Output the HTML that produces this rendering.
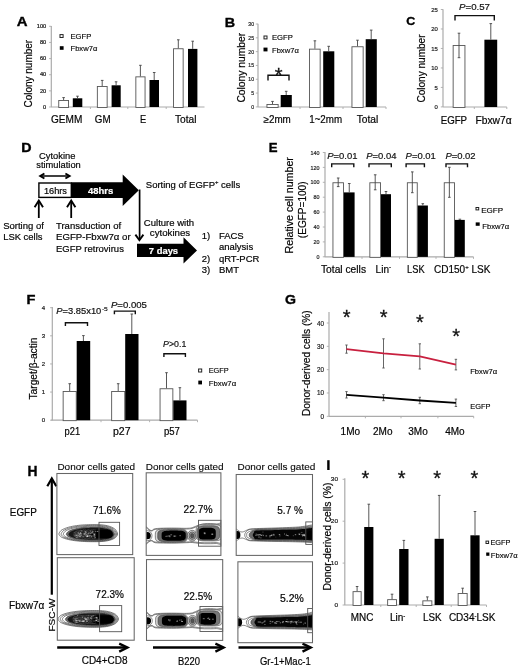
<!DOCTYPE html>
<html><head><meta charset="utf-8"><style>
html,body{margin:0;padding:0;background:#fff;}
svg{display:block;will-change:transform;}
text{font-family:"Liberation Sans", sans-serif;}
</style></head><body>
<svg width="520" height="667" viewBox="0 0 520 667">
<rect width="520" height="667" fill="#fff"/>
<text x="16.7" y="26.2" font-size="13.27" stroke="#000" stroke-width="0.35" font-weight="bold" fill="#000" textLength="10.8" lengthAdjust="spacingAndGlyphs">A</text>
<line x1="51.3" y1="26" x2="51.3" y2="107" stroke="#ababab" stroke-width="1.2"/>
<line x1="49.099999999999994" y1="26.3" x2="51.3" y2="26.3" stroke="#ababab" stroke-width="0.9"/>
<text x="46.2" y="27.9826" font-size="4.7" stroke="#222" stroke-width="0.2" text-anchor="end" fill="#222" textLength="9.45" lengthAdjust="spacingAndGlyphs">100</text>
<line x1="49.099999999999994" y1="42.44" x2="51.3" y2="42.44" stroke="#ababab" stroke-width="0.9"/>
<text x="46.2" y="44.1226" font-size="4.7" stroke="#222" stroke-width="0.2" text-anchor="end" fill="#222" textLength="6.3" lengthAdjust="spacingAndGlyphs">80</text>
<line x1="49.099999999999994" y1="58.58" x2="51.3" y2="58.58" stroke="#ababab" stroke-width="0.9"/>
<text x="46.2" y="60.2626" font-size="4.7" stroke="#222" stroke-width="0.2" text-anchor="end" fill="#222" textLength="6.3" lengthAdjust="spacingAndGlyphs">60</text>
<line x1="49.099999999999994" y1="74.72" x2="51.3" y2="74.72" stroke="#ababab" stroke-width="0.9"/>
<text x="46.2" y="76.40259999999999" font-size="4.7" stroke="#222" stroke-width="0.2" text-anchor="end" fill="#222" textLength="6.3" lengthAdjust="spacingAndGlyphs">40</text>
<line x1="49.099999999999994" y1="90.86" x2="51.3" y2="90.86" stroke="#ababab" stroke-width="0.9"/>
<text x="46.2" y="92.5426" font-size="4.7" stroke="#222" stroke-width="0.2" text-anchor="end" fill="#222" textLength="6.3" lengthAdjust="spacingAndGlyphs">20</text>
<line x1="49.099999999999994" y1="107.0" x2="51.3" y2="107.0" stroke="#ababab" stroke-width="0.9"/>
<text x="46.2" y="108.6826" font-size="4.7" stroke="#222" stroke-width="0.2" text-anchor="end" fill="#222" textLength="3.15" lengthAdjust="spacingAndGlyphs">0</text>
<line x1="51" y1="107" x2="204.5" y2="107" stroke="#ababab" stroke-width="1.2"/>
<line x1="90.4" y1="107" x2="90.4" y2="109" stroke="#ababab" stroke-width="0.9"/>
<line x1="127.8" y1="107" x2="127.8" y2="109" stroke="#ababab" stroke-width="0.9"/>
<line x1="166.2" y1="107" x2="166.2" y2="109" stroke="#ababab" stroke-width="0.9"/>
<rect x="58.75" y="100.45" width="9.800000000000002" height="7" fill="#fff" stroke="#555" stroke-width="0.9"/>
<line x1="63.6" y1="97.6" x2="63.6" y2="100" stroke="#444" stroke-width="0.9"/>
<line x1="62.300000000000004" y1="97.6" x2="64.9" y2="97.6" stroke="#444" stroke-width="0.9"/>
<rect x="72.8" y="98.3" width="9.5" height="8.700000000000003" fill="#000"/>
<line x1="77.5" y1="96.2" x2="77.5" y2="98.3" stroke="#444" stroke-width="0.9"/>
<line x1="76.2" y1="96.2" x2="78.8" y2="96.2" stroke="#444" stroke-width="0.9"/>
<rect x="97.35000000000001" y="86.45" width="9.799999999999988" height="21" fill="#fff" stroke="#555" stroke-width="0.9"/>
<line x1="102.2" y1="80.4" x2="102.2" y2="86" stroke="#444" stroke-width="0.9"/>
<line x1="100.9" y1="80.4" x2="103.5" y2="80.4" stroke="#444" stroke-width="0.9"/>
<rect x="111.6" y="85.3" width="9.100000000000009" height="21.700000000000003" fill="#000"/>
<line x1="116.1" y1="81.8" x2="116.1" y2="85.3" stroke="#444" stroke-width="0.9"/>
<line x1="114.8" y1="81.8" x2="117.39999999999999" y2="81.8" stroke="#444" stroke-width="0.9"/>
<rect x="135.85" y="76.85000000000001" width="9.199999999999994" height="30.599999999999994" fill="#fff" stroke="#555" stroke-width="0.9"/>
<line x1="140.4" y1="65.3" x2="140.4" y2="76.4" stroke="#444" stroke-width="0.9"/>
<line x1="139.1" y1="65.3" x2="141.70000000000002" y2="65.3" stroke="#444" stroke-width="0.9"/>
<rect x="149.5" y="80" width="9.5" height="27" fill="#000"/>
<line x1="154.2" y1="72.5" x2="154.2" y2="80" stroke="#444" stroke-width="0.9"/>
<line x1="152.89999999999998" y1="72.5" x2="155.5" y2="72.5" stroke="#444" stroke-width="0.9"/>
<rect x="173.54999999999998" y="48.75" width="9.6" height="58.7" fill="#fff" stroke="#555" stroke-width="0.9"/>
<line x1="178.3" y1="39.8" x2="178.3" y2="48.3" stroke="#444" stroke-width="0.9"/>
<line x1="177.0" y1="39.8" x2="179.60000000000002" y2="39.8" stroke="#444" stroke-width="0.9"/>
<rect x="188" y="48.9" width="9.400000000000006" height="58.1" fill="#000"/>
<line x1="192.7" y1="41.2" x2="192.7" y2="48.9" stroke="#444" stroke-width="0.9"/>
<line x1="191.39999999999998" y1="41.2" x2="194.0" y2="41.2" stroke="#444" stroke-width="0.9"/>
<text x="51" y="122.6" font-size="10" stroke="#111" stroke-width="0.2" textLength="31.3" lengthAdjust="spacingAndGlyphs">GEMM</text>
<text x="94.8" y="122.6" font-size="10" stroke="#111" stroke-width="0.2" textLength="15.8" lengthAdjust="spacingAndGlyphs">GM</text>
<text x="140" y="122.6" font-size="10" stroke="#111" stroke-width="0.2" textLength="6.2" lengthAdjust="spacingAndGlyphs">E</text>
<text x="174.9" y="122.5" font-size="10" stroke="#111" stroke-width="0.2" textLength="21.5" lengthAdjust="spacingAndGlyphs">Total</text>
<rect x="60.0" y="34.6" width="3.1000000000000014" height="2.8999999999999986" fill="#fff" stroke="#222" stroke-width="1"/>
<rect x="59.8" y="46.2" width="3.8000000000000043" height="3.5999999999999943" fill="#000"/>
<text x="70.5" y="38.6" font-size="7.5" stroke="#111" stroke-width="0.14" textLength="20.8" lengthAdjust="spacingAndGlyphs">EGFP</text>
<text x="70.5" y="51.2" font-size="7.5" stroke="#111" stroke-width="0.14" textLength="26.8" lengthAdjust="spacingAndGlyphs">Fbxw7α</text>
<text x="32.2" y="73.7" font-size="10" stroke="#111" stroke-width="0.2" text-anchor="middle" textLength="67.6" lengthAdjust="spacingAndGlyphs" transform="rotate(-90 32.2 73.7)">Colony number</text>
<text x="224.7" y="26.5" font-size="13.41" stroke="#000" stroke-width="0.35" font-weight="bold" fill="#000" textLength="10.4" lengthAdjust="spacingAndGlyphs">B</text>
<line x1="258" y1="23.8" x2="258" y2="107" stroke="#ababab" stroke-width="1.2"/>
<line x1="255.8" y1="24.0" x2="258" y2="24.0" stroke="#ababab" stroke-width="0.9"/>
<text x="254" y="26.0048" font-size="5.6" stroke="#222" stroke-width="0.2" text-anchor="end" fill="#222" textLength="5.7" lengthAdjust="spacingAndGlyphs">30</text>
<line x1="255.8" y1="37.82" x2="258" y2="37.82" stroke="#ababab" stroke-width="0.9"/>
<text x="254" y="39.8248" font-size="5.6" stroke="#222" stroke-width="0.2" text-anchor="end" fill="#222" textLength="5.7" lengthAdjust="spacingAndGlyphs">25</text>
<line x1="255.8" y1="51.64" x2="258" y2="51.64" stroke="#ababab" stroke-width="0.9"/>
<text x="254" y="53.644800000000004" font-size="5.6" stroke="#222" stroke-width="0.2" text-anchor="end" fill="#222" textLength="5.7" lengthAdjust="spacingAndGlyphs">20</text>
<line x1="255.8" y1="65.46000000000001" x2="258" y2="65.46000000000001" stroke="#ababab" stroke-width="0.9"/>
<text x="254" y="67.46480000000001" font-size="5.6" stroke="#222" stroke-width="0.2" text-anchor="end" fill="#222" textLength="5.7" lengthAdjust="spacingAndGlyphs">15</text>
<line x1="255.8" y1="79.28" x2="258" y2="79.28" stroke="#ababab" stroke-width="0.9"/>
<text x="254" y="81.2848" font-size="5.6" stroke="#222" stroke-width="0.2" text-anchor="end" fill="#222" textLength="5.7" lengthAdjust="spacingAndGlyphs">10</text>
<line x1="255.8" y1="93.1" x2="258" y2="93.1" stroke="#ababab" stroke-width="0.9"/>
<text x="254" y="95.1048" font-size="5.6" stroke="#222" stroke-width="0.2" text-anchor="end" fill="#222" textLength="2.85" lengthAdjust="spacingAndGlyphs">5</text>
<line x1="255.8" y1="106.92" x2="258" y2="106.92" stroke="#ababab" stroke-width="0.9"/>
<text x="254" y="108.9248" font-size="5.6" stroke="#222" stroke-width="0.2" text-anchor="end" fill="#222" textLength="2.85" lengthAdjust="spacingAndGlyphs">0</text>
<line x1="257.8" y1="107" x2="386" y2="107" stroke="#ababab" stroke-width="1.2"/>
<line x1="300" y1="107" x2="300" y2="109" stroke="#ababab" stroke-width="0.9"/>
<line x1="343" y1="107" x2="343" y2="109" stroke="#ababab" stroke-width="0.9"/>
<line x1="386" y1="107" x2="386" y2="109" stroke="#ababab" stroke-width="0.9"/>
<rect x="266.95" y="104.45" width="11.200000000000022" height="3" fill="#fff" stroke="#555" stroke-width="0.9"/>
<line x1="272.5" y1="101.4" x2="272.5" y2="104" stroke="#444" stroke-width="0.9"/>
<line x1="271.2" y1="101.4" x2="273.8" y2="101.4" stroke="#444" stroke-width="0.9"/>
<rect x="280.7" y="95" width="11.100000000000023" height="12" fill="#000"/>
<line x1="286.2" y1="91.3" x2="286.2" y2="95" stroke="#444" stroke-width="0.9"/>
<line x1="284.9" y1="91.3" x2="287.5" y2="91.3" stroke="#444" stroke-width="0.9"/>
<rect x="309.55" y="49.150000000000006" width="10.6" height="58.3" fill="#fff" stroke="#555" stroke-width="0.9"/>
<line x1="314.9" y1="40.8" x2="314.9" y2="48.7" stroke="#444" stroke-width="0.9"/>
<line x1="313.59999999999997" y1="40.8" x2="316.2" y2="40.8" stroke="#444" stroke-width="0.9"/>
<rect x="323.2" y="51.3" width="11.100000000000023" height="55.7" fill="#000"/>
<line x1="328.7" y1="46.3" x2="328.7" y2="51.3" stroke="#444" stroke-width="0.9"/>
<line x1="327.4" y1="46.3" x2="330.0" y2="46.3" stroke="#444" stroke-width="0.9"/>
<rect x="351.95" y="46.75" width="11.200000000000022" height="60.7" fill="#fff" stroke="#555" stroke-width="0.9"/>
<line x1="357.5" y1="40.2" x2="357.5" y2="46.3" stroke="#444" stroke-width="0.9"/>
<line x1="356.2" y1="40.2" x2="358.8" y2="40.2" stroke="#444" stroke-width="0.9"/>
<rect x="365.7" y="39.2" width="11.100000000000023" height="67.8" fill="#000"/>
<line x1="371.2" y1="30.1" x2="371.2" y2="39.2" stroke="#444" stroke-width="0.9"/>
<line x1="369.9" y1="30.1" x2="372.5" y2="30.1" stroke="#444" stroke-width="0.9"/>
<path d="M268 80.6 V75.2 H289 V80.6" fill="none" stroke="#111" stroke-width="1.4"/>
<text x="274.85" y="81.95" font-size="20.00" fill="#111" stroke="#111" stroke-width="0.3">*</text>
<text x="263.5" y="122.7" font-size="10" stroke="#111" stroke-width="0.2" textLength="27.3" lengthAdjust="spacingAndGlyphs">≥2mm</text>
<text x="309.2" y="122.7" font-size="10" stroke="#111" stroke-width="0.2" textLength="32.9" lengthAdjust="spacingAndGlyphs">1~2mm</text>
<text x="356.7" y="122.7" font-size="10" stroke="#111" stroke-width="0.2" textLength="21.6" lengthAdjust="spacingAndGlyphs">Total</text>
<rect x="264.0" y="36.0" width="3.0" height="2.8999999999999986" fill="#fff" stroke="#222" stroke-width="1"/>
<rect x="263.5" y="47.6" width="4.0" height="3.799999999999997" fill="#000"/>
<text x="272" y="40.3" font-size="7.5" stroke="#111" stroke-width="0.14" textLength="20.8" lengthAdjust="spacingAndGlyphs">EGFP</text>
<text x="272" y="52.5" font-size="7.5" stroke="#111" stroke-width="0.14" textLength="26.8" lengthAdjust="spacingAndGlyphs">Fbxw7α</text>
<text x="245.3" y="67.7" font-size="10" stroke="#111" stroke-width="0.2" text-anchor="middle" textLength="69.8" lengthAdjust="spacingAndGlyphs" transform="rotate(-90 245.3 67.7)">Colony number</text>
<text x="406.2" y="25.4" font-size="11.73" stroke="#000" stroke-width="0.35" font-weight="bold" fill="#000" textLength="9.0" lengthAdjust="spacingAndGlyphs">C</text>
<line x1="443" y1="9.3" x2="443" y2="107" stroke="#ababab" stroke-width="1.2"/>
<line x1="440.8" y1="9.5" x2="443" y2="9.5" stroke="#ababab" stroke-width="0.9"/>
<text x="437.9" y="11.6122" font-size="5.9" stroke="#222" stroke-width="0.2" text-anchor="end" fill="#222" textLength="6.6" lengthAdjust="spacingAndGlyphs">25</text>
<line x1="440.8" y1="28.98" x2="443" y2="28.98" stroke="#ababab" stroke-width="0.9"/>
<text x="437.9" y="31.092200000000002" font-size="5.9" stroke="#222" stroke-width="0.2" text-anchor="end" fill="#222" textLength="6.6" lengthAdjust="spacingAndGlyphs">20</text>
<line x1="440.8" y1="48.46" x2="443" y2="48.46" stroke="#ababab" stroke-width="0.9"/>
<text x="437.9" y="50.5722" font-size="5.9" stroke="#222" stroke-width="0.2" text-anchor="end" fill="#222" textLength="6.6" lengthAdjust="spacingAndGlyphs">15</text>
<line x1="440.8" y1="67.94" x2="443" y2="67.94" stroke="#ababab" stroke-width="0.9"/>
<text x="437.9" y="70.0522" font-size="5.9" stroke="#222" stroke-width="0.2" text-anchor="end" fill="#222" textLength="6.6" lengthAdjust="spacingAndGlyphs">10</text>
<line x1="440.8" y1="87.42" x2="443" y2="87.42" stroke="#ababab" stroke-width="0.9"/>
<text x="437.9" y="89.5322" font-size="5.9" stroke="#222" stroke-width="0.2" text-anchor="end" fill="#222" textLength="3.3" lengthAdjust="spacingAndGlyphs">5</text>
<line x1="440.8" y1="106.9" x2="443" y2="106.9" stroke="#ababab" stroke-width="0.9"/>
<text x="437.9" y="109.0122" font-size="5.9" stroke="#222" stroke-width="0.2" text-anchor="end" fill="#222" textLength="3.3" lengthAdjust="spacingAndGlyphs">0</text>
<line x1="443" y1="107" x2="506.8" y2="107" stroke="#ababab" stroke-width="1.2"/>
<line x1="474.3" y1="107" x2="474.3" y2="109" stroke="#ababab" stroke-width="0.9"/>
<line x1="506.8" y1="107" x2="506.8" y2="109" stroke="#ababab" stroke-width="0.9"/>
<rect x="453.15" y="45.45" width="11.799999999999988" height="62" fill="#fff" stroke="#555" stroke-width="0.9"/>
<line x1="459" y1="33.2" x2="459" y2="57.7" stroke="#444" stroke-width="0.9"/>
<line x1="457.7" y1="33.2" x2="460.3" y2="33.2" stroke="#444" stroke-width="0.9"/>
<line x1="457.7" y1="57.7" x2="460.3" y2="57.7" stroke="#444" stroke-width="0.9"/>
<rect x="484.4" y="39.7" width="12.800000000000011" height="67.3" fill="#000"/>
<line x1="490.8" y1="23.6" x2="490.8" y2="39.7" stroke="#444" stroke-width="0.9"/>
<line x1="489.5" y1="23.6" x2="492.1" y2="23.6" stroke="#444" stroke-width="0.9"/>
<path d="M455 20.4 V15.6 H494.3 V20.4" fill="none" stroke="#111" stroke-width="1.4"/>
<text x="459" y="10.1" font-size="9.8" textLength="31" lengthAdjust="spacingAndGlyphs" fill="#111" stroke="#111" stroke-width="0.2"><tspan font-style="italic">P</tspan>=0.57</text>
<text x="440.7" y="123.7" font-size="10" stroke="#111" stroke-width="0.2" textLength="26.4" lengthAdjust="spacingAndGlyphs">EGFP</text>
<text x="475.5" y="123.7" font-size="10" stroke="#111" stroke-width="0.2" textLength="36.1" lengthAdjust="spacingAndGlyphs">Fbxw7α</text>
<text x="425.3" y="68.5" font-size="10" stroke="#111" stroke-width="0.2" text-anchor="middle" textLength="68" lengthAdjust="spacingAndGlyphs" transform="rotate(-90 425.3 68.5)">Colony number</text>
<text x="21.2" y="151.89999999999998" font-size="12.71" stroke="#000" stroke-width="0.35" font-weight="bold" fill="#000" textLength="10.3" lengthAdjust="spacingAndGlyphs">D</text>
<text x="57.2" y="158.6" font-size="9.5" stroke="#111" stroke-width="0.2" text-anchor="middle" textLength="36.4" lengthAdjust="spacingAndGlyphs">Cytokine</text>
<text x="58.5" y="168.4" font-size="9.5" stroke="#111" stroke-width="0.2" text-anchor="middle" textLength="44.5" lengthAdjust="spacingAndGlyphs">stimulation</text>
<path d="M41 176 H68.5" stroke="#000" stroke-width="1.5"/>
<path d="M44.4 173.5 L40.2 176 L44.4 178.5 M65.4 173.5 L69.6 176 L65.4 178.5" fill="none" stroke="#000" stroke-width="1.9" stroke-linejoin="miter"/>
<path d="M71.2 182.3 H122.7 V174.6 L138.8 190.2 L122.7 206.1 V198.1 H71.2 Z" fill="#000"/>
<rect x="38.9" y="183" width="32.4" height="14.4" fill="#fff" stroke="#000" stroke-width="1.4"/>
<text x="43.9" y="193.8" font-size="9" stroke="#111" stroke-width="0.2" textLength="23.1" lengthAdjust="spacingAndGlyphs">16hrs</text>
<text x="88" y="193.8" font-size="9.5" stroke="#fff" stroke-width="0.2" font-weight="bold" fill="#fff" textLength="25.3" lengthAdjust="spacingAndGlyphs">48hrs</text>
<path d="M38.8 201.5 V218" stroke="#000" stroke-width="1.8"/>
<path d="M34.599999999999994 207.2 L38.8 200.6 L43.0 207.2" fill="none" stroke="#000" stroke-width="1.9"/>
<path d="M71.2 201.5 V218" stroke="#000" stroke-width="1.8"/>
<path d="M67.0 207.2 L71.2 200.6 L75.4 207.2" fill="none" stroke="#000" stroke-width="1.9"/>
<text x="3.2" y="229.2" font-size="9.5" stroke="#111" stroke-width="0.2" textLength="40.7" lengthAdjust="spacingAndGlyphs">Sorting of</text>
<text x="3.2" y="240.4" font-size="9.5" stroke="#111" stroke-width="0.2" textLength="39.3" lengthAdjust="spacingAndGlyphs">LSK cells</text>
<text x="56" y="229.2" font-size="9.5" stroke="#111" stroke-width="0.2" textLength="65.2" lengthAdjust="spacingAndGlyphs">Transduction of</text>
<text x="56" y="240.4" font-size="9.5" stroke="#111" stroke-width="0.2" textLength="74.6" lengthAdjust="spacingAndGlyphs">EGFP-Fbxw7α or</text>
<text x="56" y="251.9" font-size="9.5" stroke="#111" stroke-width="0.2" textLength="67.9" lengthAdjust="spacingAndGlyphs">EGFP retrovirus</text>
<text x="145.8" y="187.7" font-size="9.5" stroke="#111" stroke-width="0.2">Sorting of EGFP<tspan dy="-3.5" font-size="6">+</tspan><tspan dy="3.5"> cells</tspan></text>
<path d="M139.6 189.5 V239.5" stroke="#000" stroke-width="1.7"/>
<path d="M135.4 234.6 L139.4 240.2 L143.4 234.6" fill="none" stroke="#000" stroke-width="1.9"/>
<text x="169" y="225.6" font-size="9.5" stroke="#111" stroke-width="0.2" text-anchor="middle" textLength="50.3" lengthAdjust="spacingAndGlyphs">Culture with</text>
<text x="170" y="236.4" font-size="9.5" stroke="#111" stroke-width="0.2" text-anchor="middle" textLength="40.4" lengthAdjust="spacingAndGlyphs">cytokines</text>
<path d="M137 243.8 H183.5 V237.3 L197 250.4 L183.5 263.5 V257 H137 Z" fill="#000"/>
<text x="148.8" y="254.2" font-size="9.5" stroke="#fff" stroke-width="0.2" font-weight="bold" fill="#fff" textLength="29.3" lengthAdjust="spacingAndGlyphs">7 days</text>
<text x="201.8" y="239.1" font-size="9.5" stroke="#111" stroke-width="0.2">1)</text>
<text x="218.9" y="239.1" font-size="9.5" stroke="#111" stroke-width="0.2">FACS</text>
<text x="218.9" y="250.4" font-size="9.5" stroke="#111" stroke-width="0.2">analysis</text>
<text x="201.8" y="261.7" font-size="9.5" stroke="#111" stroke-width="0.2">2)</text>
<text x="218.9" y="261.7" font-size="9.5" stroke="#111" stroke-width="0.2">qRT-PCR</text>
<text x="201.8" y="273.0" font-size="9.5" stroke="#111" stroke-width="0.2">3)</text>
<text x="218.9" y="273.0" font-size="9.5" stroke="#111" stroke-width="0.2">BMT</text>
<text x="268.7" y="151.89999999999998" font-size="12.01" stroke="#000" stroke-width="0.35" font-weight="bold" fill="#000" textLength="8.8" lengthAdjust="spacingAndGlyphs">E</text>
<line x1="325" y1="152" x2="325" y2="257" stroke="#ababab" stroke-width="1.2"/>
<line x1="322.8" y1="152.5" x2="325" y2="152.5" stroke="#ababab" stroke-width="0.9"/>
<text x="319.4" y="154.6122" font-size="5.9" stroke="#222" stroke-width="0.2" text-anchor="end" fill="#222" textLength="9.0" lengthAdjust="spacingAndGlyphs">140</text>
<line x1="322.8" y1="167.4" x2="325" y2="167.4" stroke="#ababab" stroke-width="0.9"/>
<text x="319.4" y="169.5122" font-size="5.9" stroke="#222" stroke-width="0.2" text-anchor="end" fill="#222" textLength="9.0" lengthAdjust="spacingAndGlyphs">120</text>
<line x1="322.8" y1="182.3" x2="325" y2="182.3" stroke="#ababab" stroke-width="0.9"/>
<text x="319.4" y="184.4122" font-size="5.9" stroke="#222" stroke-width="0.2" text-anchor="end" fill="#222" textLength="9.0" lengthAdjust="spacingAndGlyphs">100</text>
<line x1="322.8" y1="197.2" x2="325" y2="197.2" stroke="#ababab" stroke-width="0.9"/>
<text x="319.4" y="199.3122" font-size="5.9" stroke="#222" stroke-width="0.2" text-anchor="end" fill="#222" textLength="6.0" lengthAdjust="spacingAndGlyphs">80</text>
<line x1="322.8" y1="212.1" x2="325" y2="212.1" stroke="#ababab" stroke-width="0.9"/>
<text x="319.4" y="214.2122" font-size="5.9" stroke="#222" stroke-width="0.2" text-anchor="end" fill="#222" textLength="6.0" lengthAdjust="spacingAndGlyphs">60</text>
<line x1="322.8" y1="227.0" x2="325" y2="227.0" stroke="#ababab" stroke-width="0.9"/>
<text x="319.4" y="229.1122" font-size="5.9" stroke="#222" stroke-width="0.2" text-anchor="end" fill="#222" textLength="6.0" lengthAdjust="spacingAndGlyphs">40</text>
<line x1="322.8" y1="241.9" x2="325" y2="241.9" stroke="#ababab" stroke-width="0.9"/>
<text x="319.4" y="244.0122" font-size="5.9" stroke="#222" stroke-width="0.2" text-anchor="end" fill="#222" textLength="6.0" lengthAdjust="spacingAndGlyphs">20</text>
<line x1="322.8" y1="256.8" x2="325" y2="256.8" stroke="#ababab" stroke-width="0.9"/>
<text x="319.4" y="258.9122" font-size="5.9" stroke="#222" stroke-width="0.2" text-anchor="end" fill="#222" textLength="3.0" lengthAdjust="spacingAndGlyphs">0</text>
<line x1="324.7" y1="256.9" x2="473.5" y2="256.9" stroke="#ababab" stroke-width="1.2"/>
<line x1="362" y1="256.9" x2="362" y2="258.9" stroke="#ababab" stroke-width="0.9"/>
<line x1="399.5" y1="256.9" x2="399.5" y2="258.9" stroke="#ababab" stroke-width="0.9"/>
<line x1="436" y1="256.9" x2="436" y2="258.9" stroke="#ababab" stroke-width="0.9"/>
<line x1="473.5" y1="256.9" x2="473.5" y2="258.9" stroke="#ababab" stroke-width="0.9"/>
<rect x="332.95" y="182.75" width="10.499999999999977" height="74.59999999999997" fill="#fff" stroke="#555" stroke-width="0.9"/>
<rect x="343.9" y="192.4" width="10.700000000000045" height="64.49999999999997" fill="#000"/>
<line x1="338.2" y1="178" x2="338.2" y2="186.6" stroke="#444" stroke-width="0.9"/>
<line x1="336.9" y1="178" x2="339.5" y2="178" stroke="#444" stroke-width="0.9"/>
<line x1="336.9" y1="186.6" x2="339.5" y2="186.6" stroke="#444" stroke-width="0.9"/>
<line x1="349.25" y1="183.5" x2="349.25" y2="192.4" stroke="#444" stroke-width="0.9"/>
<line x1="347.95" y1="183.5" x2="350.55" y2="183.5" stroke="#444" stroke-width="0.9"/>
<rect x="369.84999999999997" y="182.75" width="10.700000000000022" height="74.59999999999997" fill="#fff" stroke="#555" stroke-width="0.9"/>
<rect x="381" y="194.2" width="10" height="62.69999999999999" fill="#000"/>
<line x1="375.2" y1="174.8" x2="375.2" y2="189.8" stroke="#444" stroke-width="0.9"/>
<line x1="373.9" y1="174.8" x2="376.5" y2="174.8" stroke="#444" stroke-width="0.9"/>
<line x1="373.9" y1="189.8" x2="376.5" y2="189.8" stroke="#444" stroke-width="0.9"/>
<line x1="386.0" y1="191.5" x2="386.0" y2="194.2" stroke="#444" stroke-width="0.9"/>
<line x1="384.7" y1="191.5" x2="387.3" y2="191.5" stroke="#444" stroke-width="0.9"/>
<rect x="407.34999999999997" y="182.75" width="9.900000000000011" height="74.59999999999997" fill="#fff" stroke="#555" stroke-width="0.9"/>
<rect x="417.7" y="205.5" width="10.199999999999989" height="51.39999999999998" fill="#000"/>
<line x1="412.29999999999995" y1="171.9" x2="412.29999999999995" y2="192.7" stroke="#444" stroke-width="0.9"/>
<line x1="410.99999999999994" y1="171.9" x2="413.59999999999997" y2="171.9" stroke="#444" stroke-width="0.9"/>
<line x1="410.99999999999994" y1="192.7" x2="413.59999999999997" y2="192.7" stroke="#444" stroke-width="0.9"/>
<line x1="422.79999999999995" y1="203.7" x2="422.79999999999995" y2="205.5" stroke="#444" stroke-width="0.9"/>
<line x1="421.49999999999994" y1="203.7" x2="424.09999999999997" y2="203.7" stroke="#444" stroke-width="0.9"/>
<rect x="444.25" y="182.75" width="10.199999999999966" height="74.59999999999997" fill="#fff" stroke="#555" stroke-width="0.9"/>
<rect x="454.9" y="219.9" width="9.900000000000034" height="36.99999999999997" fill="#000"/>
<line x1="449.35" y1="167.3" x2="449.35" y2="197.3" stroke="#444" stroke-width="0.9"/>
<line x1="448.05" y1="167.3" x2="450.65000000000003" y2="167.3" stroke="#444" stroke-width="0.9"/>
<line x1="448.05" y1="197.3" x2="450.65000000000003" y2="197.3" stroke="#444" stroke-width="0.9"/>
<line x1="459.85" y1="219.2" x2="459.85" y2="219.9" stroke="#444" stroke-width="0.9"/>
<line x1="458.55" y1="219.2" x2="461.15000000000003" y2="219.2" stroke="#444" stroke-width="0.9"/>
<path d="M331.7 167.2 V163.9 H353.8 V167.2" fill="none" stroke="#111" stroke-width="1.4"/>
<path d="M369 167.2 V163.9 H391.3 V167.2" fill="none" stroke="#111" stroke-width="1.4"/>
<path d="M406.1 167.2 V163.9 H424.4 V167.2" fill="none" stroke="#111" stroke-width="1.4"/>
<path d="M446 167.2 V163.9 H467.5 V167.2" fill="none" stroke="#111" stroke-width="1.4"/>
<text x="327.2" y="158.6" font-size="9.9" textLength="30.2" lengthAdjust="spacingAndGlyphs" fill="#111" stroke="#111" stroke-width="0.2"><tspan font-style="italic">P</tspan>=0.01</text>
<text x="366.2" y="158.6" font-size="9.9" textLength="30.2" lengthAdjust="spacingAndGlyphs" fill="#111" stroke="#111" stroke-width="0.2"><tspan font-style="italic">P</tspan>=0.04</text>
<text x="405.6" y="158.6" font-size="9.9" textLength="30.2" lengthAdjust="spacingAndGlyphs" fill="#111" stroke="#111" stroke-width="0.2"><tspan font-style="italic">P</tspan>=0.01</text>
<text x="445.4" y="158.6" font-size="9.9" textLength="30.2" lengthAdjust="spacingAndGlyphs" fill="#111" stroke="#111" stroke-width="0.2"><tspan font-style="italic">P</tspan>=0.02</text>
<text x="321" y="272.8" font-size="10" stroke="#111" stroke-width="0.2" textLength="45" lengthAdjust="spacingAndGlyphs">Total cells</text>
<text x="375.6" y="272.8" font-size="10" stroke="#111" stroke-width="0.2">Lin<tspan dy="-3.5" font-size="6">-</tspan></text>
<text x="407.1" y="272.8" font-size="10" stroke="#111" stroke-width="0.2" textLength="17.5" lengthAdjust="spacingAndGlyphs">LSK</text>
<text x="434" y="272.8" font-size="10" stroke="#111" stroke-width="0.2">CD150<tspan dy="-3.5" font-size="6">+</tspan><tspan dy="3.5"> LSK</tspan></text>
<rect x="476.0" y="207.5" width="2.6999999999999886" height="2.4000000000000057" fill="#fff" stroke="#222" stroke-width="1"/>
<rect x="475.7" y="222.4" width="4.0" height="3.4000000000000057" fill="#000"/>
<text x="481.2" y="212.7" font-size="7.5" stroke="#111" stroke-width="0.14" textLength="21.9" lengthAdjust="spacingAndGlyphs">EGFP</text>
<text x="482.3" y="228.8" font-size="7.5" stroke="#111" stroke-width="0.14" textLength="26.9" lengthAdjust="spacingAndGlyphs">Fbxw7α</text>
<text x="293.3" y="205.3" font-size="10.3" stroke="#111" stroke-width="0.2" text-anchor="middle" textLength="96.3" lengthAdjust="spacingAndGlyphs" transform="rotate(-90 293.3 205.3)">Relative cell number</text>
<text x="305.6" y="209.8" font-size="10" stroke="#111" stroke-width="0.2" text-anchor="middle" textLength="56.7" lengthAdjust="spacingAndGlyphs" transform="rotate(-90 305.6 209.8)">(EGFP=100)</text>
<text x="26.599999999999998" y="303.5" font-size="12.01" stroke="#000" stroke-width="0.35" font-weight="bold" fill="#000" textLength="8.9" lengthAdjust="spacingAndGlyphs">F</text>
<line x1="52.3" y1="306.9" x2="52.3" y2="420.2" stroke="#ababab" stroke-width="1.2"/>
<line x1="50.099999999999994" y1="307.7" x2="52.3" y2="307.7" stroke="#ababab" stroke-width="0.9"/>
<text x="45.2" y="309.77639999999997" font-size="5.8" stroke="#222" stroke-width="0.2" text-anchor="end" fill="#222" textLength="3.4" lengthAdjust="spacingAndGlyphs">4</text>
<line x1="50.099999999999994" y1="335.82" x2="52.3" y2="335.82" stroke="#ababab" stroke-width="0.9"/>
<text x="45.2" y="337.89639999999997" font-size="5.8" stroke="#222" stroke-width="0.2" text-anchor="end" fill="#222" textLength="3.4" lengthAdjust="spacingAndGlyphs">3</text>
<line x1="50.099999999999994" y1="363.94" x2="52.3" y2="363.94" stroke="#ababab" stroke-width="0.9"/>
<text x="45.2" y="366.0164" font-size="5.8" stroke="#222" stroke-width="0.2" text-anchor="end" fill="#222" textLength="3.4" lengthAdjust="spacingAndGlyphs">2</text>
<line x1="50.099999999999994" y1="392.06" x2="52.3" y2="392.06" stroke="#ababab" stroke-width="0.9"/>
<text x="45.2" y="394.1364" font-size="5.8" stroke="#222" stroke-width="0.2" text-anchor="end" fill="#222" textLength="3.4" lengthAdjust="spacingAndGlyphs">1</text>
<line x1="50.099999999999994" y1="420.18" x2="52.3" y2="420.18" stroke="#ababab" stroke-width="0.9"/>
<text x="45.2" y="422.2564" font-size="5.8" stroke="#222" stroke-width="0.2" text-anchor="end" fill="#222" textLength="3.4" lengthAdjust="spacingAndGlyphs">0</text>
<line x1="51.3" y1="420.2" x2="197.5" y2="420.2" stroke="#ababab" stroke-width="1.2"/>
<line x1="101" y1="420.2" x2="101" y2="422.2" stroke="#ababab" stroke-width="0.9"/>
<line x1="149.6" y1="420.2" x2="149.6" y2="422.2" stroke="#ababab" stroke-width="0.9"/>
<line x1="197.5" y1="420.2" x2="197.5" y2="422.2" stroke="#ababab" stroke-width="0.9"/>
<rect x="63.150000000000006" y="391.45" width="13.1" height="29.19999999999999" fill="#fff" stroke="#555" stroke-width="0.9"/>
<line x1="69.7" y1="383.7" x2="69.7" y2="391" stroke="#444" stroke-width="0.9"/>
<line x1="68.4" y1="383.7" x2="71.0" y2="383.7" stroke="#444" stroke-width="0.9"/>
<rect x="76.7" y="341" width="13.5" height="79.19999999999999" fill="#000"/>
<line x1="83.4" y1="335.6" x2="83.4" y2="341" stroke="#444" stroke-width="0.9"/>
<line x1="82.10000000000001" y1="335.6" x2="84.7" y2="335.6" stroke="#444" stroke-width="0.9"/>
<rect x="111.65" y="391.45" width="13.1" height="29.19999999999999" fill="#fff" stroke="#555" stroke-width="0.9"/>
<line x1="118.2" y1="383.7" x2="118.2" y2="391" stroke="#444" stroke-width="0.9"/>
<line x1="116.9" y1="383.7" x2="119.5" y2="383.7" stroke="#444" stroke-width="0.9"/>
<rect x="125.2" y="334" width="13.299999999999997" height="86.19999999999999" fill="#000"/>
<line x1="131.8" y1="314" x2="131.8" y2="334" stroke="#444" stroke-width="0.9"/>
<line x1="130.5" y1="314" x2="133.10000000000002" y2="314" stroke="#444" stroke-width="0.9"/>
<rect x="160.04999999999998" y="388.75" width="12.800000000000017" height="31.899999999999977" fill="#fff" stroke="#555" stroke-width="0.9"/>
<line x1="166.5" y1="372.7" x2="166.5" y2="388.3" stroke="#444" stroke-width="0.9"/>
<line x1="165.2" y1="372.7" x2="167.8" y2="372.7" stroke="#444" stroke-width="0.9"/>
<rect x="173.3" y="400.4" width="13.199999999999989" height="19.80000000000001" fill="#000"/>
<line x1="179.9" y1="387.7" x2="179.9" y2="400.4" stroke="#444" stroke-width="0.9"/>
<line x1="178.6" y1="387.7" x2="181.20000000000002" y2="387.7" stroke="#444" stroke-width="0.9"/>
<path d="M65.4 326 V322.7 H87.5 V326" fill="none" stroke="#111" stroke-width="1.4"/>
<path d="M114.4 314.2 V311.1 H135.3 V314.2" fill="none" stroke="#111" stroke-width="1.4"/>
<path d="M163.9 357 V353.7 H185.4 V357" fill="none" stroke="#111" stroke-width="1.4"/>
<text x="56.3" y="314.4" font-size="9.2" textLength="45" lengthAdjust="spacingAndGlyphs" fill="#111" stroke="#111" stroke-width="0.2"><tspan font-style="italic">P</tspan>=3.85x10</text>
<text x="101.9" y="311.3" font-size="5.6" textLength="5.9" lengthAdjust="spacingAndGlyphs" fill="#111" stroke="#111" stroke-width="0.15">-5</text>
<text x="110.9" y="307.9" font-size="9.4" textLength="36" lengthAdjust="spacingAndGlyphs" fill="#111" stroke="#111" stroke-width="0.2"><tspan font-style="italic">P</tspan>=0.005</text>
<text x="163.1" y="346.9" font-size="9.4" textLength="23.2" lengthAdjust="spacingAndGlyphs" fill="#111" stroke="#111" stroke-width="0.2"><tspan font-style="italic">P</tspan>&gt;0.1</text>
<text x="64.6" y="435.4" font-size="10" stroke="#111" stroke-width="0.2" textLength="15.6" lengthAdjust="spacingAndGlyphs">p21</text>
<text x="113" y="435.4" font-size="10" stroke="#111" stroke-width="0.2" textLength="17.6" lengthAdjust="spacingAndGlyphs">p27</text>
<text x="163.9" y="435.4" font-size="10" stroke="#111" stroke-width="0.2" textLength="15.9" lengthAdjust="spacingAndGlyphs">p57</text>
<rect x="198.6" y="369.0" width="3.0999999999999943" height="3.0" fill="#fff" stroke="#222" stroke-width="1"/>
<rect x="198.3" y="380.6" width="3.6999999999999886" height="3.7999999999999545" fill="#000"/>
<text x="208.7" y="373.4" font-size="7.9" stroke="#111" stroke-width="0.14" textLength="20.1" lengthAdjust="spacingAndGlyphs">EGFP</text>
<text x="208.7" y="385.8" font-size="7.9" stroke="#111" stroke-width="0.14" textLength="27.5" lengthAdjust="spacingAndGlyphs">Fbxw7α</text>
<text x="37.0" y="368.5" font-size="10" stroke="#111" stroke-width="0.2" text-anchor="middle" textLength="62" lengthAdjust="spacingAndGlyphs" transform="rotate(-90 37.0 368.5)">Target/β-actin</text>
<text x="284.9" y="303.5" font-size="13.13" stroke="#000" stroke-width="0.35" font-weight="bold" fill="#000" textLength="11.0" lengthAdjust="spacingAndGlyphs">G</text>
<line x1="329" y1="312" x2="329" y2="416.3" stroke="#ababab" stroke-width="1.2"/>
<line x1="326.8" y1="323.0" x2="329" y2="323.0" stroke="#ababab" stroke-width="0.9"/>
<text x="324.1" y="325.506" font-size="7" stroke="#222" stroke-width="0.2" text-anchor="end" fill="#222" textLength="7.0" lengthAdjust="spacingAndGlyphs">40</text>
<line x1="326.8" y1="346.33" x2="329" y2="346.33" stroke="#ababab" stroke-width="0.9"/>
<text x="324.1" y="348.83599999999996" font-size="7" stroke="#222" stroke-width="0.2" text-anchor="end" fill="#222" textLength="7.0" lengthAdjust="spacingAndGlyphs">30</text>
<line x1="326.8" y1="369.65999999999997" x2="329" y2="369.65999999999997" stroke="#ababab" stroke-width="0.9"/>
<text x="324.1" y="372.16599999999994" font-size="7" stroke="#222" stroke-width="0.2" text-anchor="end" fill="#222" textLength="7.0" lengthAdjust="spacingAndGlyphs">20</text>
<line x1="326.8" y1="392.99" x2="329" y2="392.99" stroke="#ababab" stroke-width="0.9"/>
<text x="324.1" y="395.496" font-size="7" stroke="#222" stroke-width="0.2" text-anchor="end" fill="#222" textLength="7.0" lengthAdjust="spacingAndGlyphs">10</text>
<line x1="326.8" y1="416.32" x2="329" y2="416.32" stroke="#ababab" stroke-width="0.9"/>
<text x="324.1" y="418.82599999999996" font-size="7" stroke="#222" stroke-width="0.2" text-anchor="end" fill="#222" textLength="3.5" lengthAdjust="spacingAndGlyphs">0</text>
<line x1="329" y1="416.3" x2="473.7" y2="416.3" stroke="#ababab" stroke-width="1.2"/>
<line x1="365.4" y1="416.3" x2="365.4" y2="418.3" stroke="#ababab" stroke-width="0.9"/>
<line x1="401" y1="416.3" x2="401" y2="418.3" stroke="#ababab" stroke-width="0.9"/>
<line x1="437.9" y1="416.3" x2="437.9" y2="418.3" stroke="#ababab" stroke-width="0.9"/>
<line x1="473.7" y1="416.3" x2="473.7" y2="418.3" stroke="#ababab" stroke-width="0.9"/>
<line x1="346.5" y1="345.0" x2="346.5" y2="353.20000000000005" stroke="#555" stroke-width="0.9"/>
<line x1="345.3" y1="345.0" x2="347.7" y2="345.0" stroke="#555" stroke-width="0.9"/>
<line x1="345.3" y1="353.20000000000005" x2="347.7" y2="353.20000000000005" stroke="#555" stroke-width="0.9"/>
<line x1="383.5" y1="338.79999999999995" x2="383.5" y2="368.0" stroke="#555" stroke-width="0.9"/>
<line x1="382.3" y1="338.79999999999995" x2="384.7" y2="338.79999999999995" stroke="#555" stroke-width="0.9"/>
<line x1="382.3" y1="368.0" x2="384.7" y2="368.0" stroke="#555" stroke-width="0.9"/>
<line x1="419.8" y1="343.79999999999995" x2="419.8" y2="369.0" stroke="#555" stroke-width="0.9"/>
<line x1="418.6" y1="343.79999999999995" x2="421.0" y2="343.79999999999995" stroke="#555" stroke-width="0.9"/>
<line x1="418.6" y1="369.0" x2="421.0" y2="369.0" stroke="#555" stroke-width="0.9"/>
<line x1="455.9" y1="359.3" x2="455.9" y2="369.90000000000003" stroke="#555" stroke-width="0.9"/>
<line x1="454.7" y1="359.3" x2="457.09999999999997" y2="359.3" stroke="#555" stroke-width="0.9"/>
<line x1="454.7" y1="369.90000000000003" x2="457.09999999999997" y2="369.90000000000003" stroke="#555" stroke-width="0.9"/>
<line x1="346.5" y1="391.6" x2="346.5" y2="398.0" stroke="#555" stroke-width="0.9"/>
<line x1="345.3" y1="391.6" x2="347.7" y2="391.6" stroke="#555" stroke-width="0.9"/>
<line x1="345.3" y1="398.0" x2="347.7" y2="398.0" stroke="#555" stroke-width="0.9"/>
<line x1="383.5" y1="394.7" x2="383.5" y2="400.7" stroke="#555" stroke-width="0.9"/>
<line x1="382.3" y1="394.7" x2="384.7" y2="394.7" stroke="#555" stroke-width="0.9"/>
<line x1="382.3" y1="400.7" x2="384.7" y2="400.7" stroke="#555" stroke-width="0.9"/>
<line x1="419.8" y1="397.3" x2="419.8" y2="403.7" stroke="#555" stroke-width="0.9"/>
<line x1="418.6" y1="397.3" x2="421.0" y2="397.3" stroke="#555" stroke-width="0.9"/>
<line x1="418.6" y1="403.7" x2="421.0" y2="403.7" stroke="#555" stroke-width="0.9"/>
<line x1="455.9" y1="399.1" x2="455.9" y2="406.5" stroke="#555" stroke-width="0.9"/>
<line x1="454.7" y1="399.1" x2="457.09999999999997" y2="399.1" stroke="#555" stroke-width="0.9"/>
<line x1="454.7" y1="406.5" x2="457.09999999999997" y2="406.5" stroke="#555" stroke-width="0.9"/>
<polyline points="346.5,349.1 383.5,353.4 419.8,356.4 455.9,364.6" fill="none" stroke="#c8203f" stroke-width="1.9"/>
<polyline points="346.5,394.8 383.5,397.7 419.8,400.5 455.9,402.8" fill="none" stroke="#000" stroke-width="1.8"/>
<text x="342.75" y="324.05" font-size="20.00" fill="#111" stroke="#111" stroke-width="0.3">*</text>
<text x="379.75" y="324.05" font-size="20.00" fill="#111" stroke="#111" stroke-width="0.3">*</text>
<text x="416.05" y="328.55" font-size="20.00" fill="#111" stroke="#111" stroke-width="0.3">*</text>
<text x="452.15" y="343.45" font-size="20.00" fill="#111" stroke="#111" stroke-width="0.3">*</text>
<text x="340.6" y="434.9" font-size="10" stroke="#111" stroke-width="0.2" textLength="19.5" lengthAdjust="spacingAndGlyphs">1Mo</text>
<text x="373" y="434.9" font-size="10" stroke="#111" stroke-width="0.2" textLength="19.5" lengthAdjust="spacingAndGlyphs">2Mo</text>
<text x="408.3" y="434.9" font-size="10" stroke="#111" stroke-width="0.2" textLength="19.5" lengthAdjust="spacingAndGlyphs">3Mo</text>
<text x="445.2" y="434.9" font-size="10" stroke="#111" stroke-width="0.2" textLength="19.5" lengthAdjust="spacingAndGlyphs">4Mo</text>
<text x="470.2" y="373.9" font-size="7.5" stroke="#111" stroke-width="0.14" textLength="26.9" lengthAdjust="spacingAndGlyphs">Fbxw7α</text>
<text x="470.2" y="409" font-size="7.5" stroke="#111" stroke-width="0.14" textLength="20.2" lengthAdjust="spacingAndGlyphs">EGFP</text>
<text x="310.3" y="363.2" font-size="10" stroke="#111" stroke-width="0.2" text-anchor="middle" textLength="105.8" lengthAdjust="spacingAndGlyphs" transform="rotate(-90 310.3 363.2)">Donor-derived cells (%)</text>
<text x="27.4" y="476.4" font-size="13.97" stroke="#000" stroke-width="0.35" font-weight="bold" fill="#000" textLength="10.0" lengthAdjust="spacingAndGlyphs">H</text>
<path d="M51.8 479 V594.7" stroke="#000" stroke-width="2.2"/>
<path d="M47.3 486.2 L51.8 478.4 L56.3 486.2" fill="none" stroke="#000" stroke-width="2.2" stroke-linejoin="miter"/>
<text x="55.4" y="615" font-size="9.5" stroke="#111" stroke-width="0.2" text-anchor="middle" textLength="33.1" lengthAdjust="spacingAndGlyphs" transform="rotate(-90 55.4 615)">FSC-W</text>
<text x="9.8" y="516.3" font-size="10" stroke="#111" stroke-width="0.2" textLength="27" lengthAdjust="spacingAndGlyphs">EGFP</text>
<text x="9" y="608.7" font-size="10" stroke="#111" stroke-width="0.2" textLength="35.4" lengthAdjust="spacingAndGlyphs">Fbxw7α</text>
<text x="57.4" y="470.4" font-size="9.5" stroke="#111" stroke-width="0.1" textLength="77.8" lengthAdjust="spacingAndGlyphs">Donor cells gated</text>
<text x="145.8" y="470.4" font-size="9.5" stroke="#111" stroke-width="0.1" textLength="77.8" lengthAdjust="spacingAndGlyphs">Donor cells gated</text>
<text x="237.5" y="470.4" font-size="9.5" stroke="#111" stroke-width="0.1" textLength="77.8" lengthAdjust="spacingAndGlyphs">Donor cells gated</text>
<text x="92.9" y="513.9" font-size="10" stroke="#111" stroke-width="0.2" textLength="28" lengthAdjust="spacingAndGlyphs">71.6%</text>
<text x="183.5" y="512.9" font-size="10" stroke="#111" stroke-width="0.2" textLength="29" lengthAdjust="spacingAndGlyphs">22.7%</text>
<text x="277.3" y="514.2" font-size="10" stroke="#111" stroke-width="0.2" textLength="25.6" lengthAdjust="spacingAndGlyphs">5.7 %</text>
<text x="95.6" y="598.3" font-size="10" stroke="#111" stroke-width="0.2" textLength="28.3" lengthAdjust="spacingAndGlyphs">72.3%</text>
<text x="183.8" y="600.2" font-size="10" stroke="#111" stroke-width="0.2" textLength="28.3" lengthAdjust="spacingAndGlyphs">22.5%</text>
<text x="280" y="601.5" font-size="10" stroke="#111" stroke-width="0.2" textLength="23.8" lengthAdjust="spacingAndGlyphs">5.2%</text>
<path d="M57.2 647.5 H126.0" stroke="#000" stroke-width="2.3"/>
<path d="M119.2 643.6 L127.5 647.5 L119.2 651.6" fill="none" stroke="#000" stroke-width="2.3"/>
<path d="M153 647.5 H222.2" stroke="#000" stroke-width="2.3"/>
<path d="M215.39999999999998 643.6 L223.7 647.5 L215.39999999999998 651.6" fill="none" stroke="#000" stroke-width="2.3"/>
<path d="M238.5 647.5 H309.3" stroke="#000" stroke-width="2.3"/>
<path d="M302.5 643.6 L310.8 647.5 L302.5 651.6" fill="none" stroke="#000" stroke-width="2.3"/>
<text x="81.7" y="664.4" font-size="10" stroke="#111" stroke-width="0.2" textLength="45.8" lengthAdjust="spacingAndGlyphs">CD4+CD8</text>
<text x="178" y="664.6" font-size="10" stroke="#111" stroke-width="0.2" textLength="22" lengthAdjust="spacingAndGlyphs">B220</text>
<text x="260" y="664.5" font-size="10" stroke="#111" stroke-width="0.2" textLength="50.8" lengthAdjust="spacingAndGlyphs">Gr-1+Mac-1</text>
<defs><clipPath id="c00"><rect x="56.9" y="473.5" width="75.79999999999998" height="81.10000000000002"/></clipPath><clipPath id="c01"><rect x="57.3" y="557.7" width="76.89999999999999" height="82.5"/></clipPath><clipPath id="c10"><rect x="146.2" y="472.8" width="74.70000000000002" height="82.59999999999997"/></clipPath><clipPath id="c11"><rect x="146.5" y="559.6" width="76.19999999999999" height="80.79999999999995"/></clipPath><clipPath id="c20"><rect x="236.2" y="474.5" width="76.30000000000001" height="80.89999999999998"/></clipPath><clipPath id="c21"><rect x="237.9" y="561.8" width="74.6" height="80.90000000000009"/></clipPath></defs>
<g clip-path="url(#c00)"><path d="M58.90 534.00 C58.90 533.00 60.20 531.46 60.86 530.70 C61.51 529.94 62.16 529.79 62.81 529.42 C63.47 529.05 64.12 528.77 64.77 528.50 C65.42 528.22 66.07 527.99 66.73 527.77 C67.38 527.55 68.03 527.36 68.68 527.18 C69.34 526.99 69.99 526.83 70.64 526.68 C71.29 526.53 71.94 526.39 72.60 526.26 C73.25 526.13 73.90 526.02 74.55 525.91 C75.21 525.80 75.86 525.70 76.51 525.61 C77.16 525.52 77.81 525.43 78.47 525.36 C79.12 525.28 79.77 525.21 80.42 525.15 C81.08 525.09 81.73 525.03 82.38 524.98 C83.03 524.93 83.68 524.89 84.34 524.85 C84.99 524.81 85.64 524.78 86.29 524.75 C86.95 524.72 87.60 524.70 88.25 524.68 C88.90 524.66 89.55 524.64 90.21 524.63 C90.86 524.62 91.51 524.61 92.16 524.61 C92.82 524.60 93.47 524.60 94.12 524.60 C94.77 524.60 95.42 524.60 96.08 524.61 C96.73 524.61 97.38 524.62 98.03 524.64 C98.69 524.66 99.34 524.69 99.99 524.73 C100.64 524.77 101.29 524.81 101.95 524.87 C102.60 524.94 103.25 525.01 103.90 525.10 C104.56 525.18 105.21 525.29 105.86 525.41 C106.51 525.53 107.16 525.67 107.82 525.84 C108.47 526.01 109.12 526.19 109.77 526.41 C110.43 526.64 111.08 526.88 111.73 527.18 C112.38 527.48 113.03 527.79 113.69 528.22 C114.34 528.66 114.99 528.81 115.64 529.77 C116.30 530.73 117.60 532.72 117.60 534.00 C117.60 535.28 116.30 536.68 115.64 537.46 C114.99 538.25 114.34 538.38 113.69 538.73 C113.03 539.08 112.38 539.34 111.73 539.59 C111.08 539.84 110.43 540.03 109.77 540.22 C109.12 540.40 108.47 540.55 107.82 540.69 C107.16 540.82 106.51 540.93 105.86 541.04 C105.21 541.14 104.56 541.22 103.90 541.29 C103.25 541.37 102.60 541.43 101.95 541.48 C101.29 541.53 100.64 541.56 99.99 541.59 C99.34 541.63 98.69 541.65 98.03 541.66 C97.38 541.68 96.73 541.69 96.08 541.69 C95.42 541.70 94.77 541.70 94.12 541.70 C93.47 541.70 92.82 541.70 92.16 541.70 C91.51 541.69 90.86 541.68 90.21 541.68 C89.55 541.67 88.90 541.65 88.25 541.64 C87.60 541.62 86.95 541.60 86.29 541.58 C85.64 541.55 84.99 541.53 84.34 541.49 C83.68 541.46 83.03 541.43 82.38 541.39 C81.73 541.34 81.08 541.30 80.42 541.25 C79.77 541.20 79.12 541.14 78.47 541.08 C77.81 541.02 77.16 540.95 76.51 540.87 C75.86 540.80 75.21 540.72 74.55 540.63 C73.90 540.54 73.25 540.44 72.60 540.34 C71.94 540.23 71.29 540.12 70.64 540.00 C69.99 539.87 69.34 539.74 68.68 539.59 C68.03 539.44 67.38 539.28 66.73 539.10 C66.07 538.92 65.42 538.73 64.77 538.51 C64.12 538.28 63.47 538.05 62.81 537.75 C62.16 537.45 61.51 537.33 60.86 536.70 C60.20 536.08 58.90 535.00 58.90 534.00Z" fill="#fff"/><path d="M58.90 534.00 C58.90 533.00 60.20 531.46 60.86 530.70 C61.51 529.94 62.16 529.79 62.81 529.42 C63.47 529.05 64.12 528.77 64.77 528.50 C65.42 528.22 66.07 527.99 66.73 527.77 C67.38 527.55 68.03 527.36 68.68 527.18 C69.34 526.99 69.99 526.83 70.64 526.68 C71.29 526.53 71.94 526.39 72.60 526.26 C73.25 526.13 73.90 526.02 74.55 525.91 C75.21 525.80 75.86 525.70 76.51 525.61 C77.16 525.52 77.81 525.43 78.47 525.36 C79.12 525.28 79.77 525.21 80.42 525.15 C81.08 525.09 81.73 525.03 82.38 524.98 C83.03 524.93 83.68 524.89 84.34 524.85 C84.99 524.81 85.64 524.78 86.29 524.75 C86.95 524.72 87.60 524.70 88.25 524.68 C88.90 524.66 89.55 524.64 90.21 524.63 C90.86 524.62 91.51 524.61 92.16 524.61 C92.82 524.60 93.47 524.60 94.12 524.60 C94.77 524.60 95.42 524.60 96.08 524.61 C96.73 524.61 97.38 524.62 98.03 524.64 C98.69 524.66 99.34 524.69 99.99 524.73 C100.64 524.77 101.29 524.81 101.95 524.87 C102.60 524.94 103.25 525.01 103.90 525.10 C104.56 525.18 105.21 525.29 105.86 525.41 C106.51 525.53 107.16 525.67 107.82 525.84 C108.47 526.01 109.12 526.19 109.77 526.41 C110.43 526.64 111.08 526.88 111.73 527.18 C112.38 527.48 113.03 527.79 113.69 528.22 C114.34 528.66 114.99 528.81 115.64 529.77 C116.30 530.73 117.60 532.72 117.60 534.00 C117.60 535.28 116.30 536.68 115.64 537.46 C114.99 538.25 114.34 538.38 113.69 538.73 C113.03 539.08 112.38 539.34 111.73 539.59 C111.08 539.84 110.43 540.03 109.77 540.22 C109.12 540.40 108.47 540.55 107.82 540.69 C107.16 540.82 106.51 540.93 105.86 541.04 C105.21 541.14 104.56 541.22 103.90 541.29 C103.25 541.37 102.60 541.43 101.95 541.48 C101.29 541.53 100.64 541.56 99.99 541.59 C99.34 541.63 98.69 541.65 98.03 541.66 C97.38 541.68 96.73 541.69 96.08 541.69 C95.42 541.70 94.77 541.70 94.12 541.70 C93.47 541.70 92.82 541.70 92.16 541.70 C91.51 541.69 90.86 541.68 90.21 541.68 C89.55 541.67 88.90 541.65 88.25 541.64 C87.60 541.62 86.95 541.60 86.29 541.58 C85.64 541.55 84.99 541.53 84.34 541.49 C83.68 541.46 83.03 541.43 82.38 541.39 C81.73 541.34 81.08 541.30 80.42 541.25 C79.77 541.20 79.12 541.14 78.47 541.08 C77.81 541.02 77.16 540.95 76.51 540.87 C75.86 540.80 75.21 540.72 74.55 540.63 C73.90 540.54 73.25 540.44 72.60 540.34 C71.94 540.23 71.29 540.12 70.64 540.00 C69.99 539.87 69.34 539.74 68.68 539.59 C68.03 539.44 67.38 539.28 66.73 539.10 C66.07 538.92 65.42 538.73 64.77 538.51 C64.12 538.28 63.47 538.05 62.81 537.75 C62.16 537.45 61.51 537.33 60.86 536.70 C60.20 536.08 58.90 535.00 58.90 534.00Z" fill="none" stroke="#3a3a3a" stroke-width="0.65"/><path d="M61.10 534.10 C61.10 533.17 62.33 531.75 62.95 531.05 C63.57 530.34 64.18 530.20 64.80 529.86 C65.42 529.52 66.03 529.27 66.65 529.01 C67.27 528.76 67.88 528.54 68.50 528.34 C69.12 528.14 69.73 527.96 70.35 527.79 C70.97 527.62 71.58 527.47 72.20 527.33 C72.82 527.19 73.43 527.06 74.05 526.94 C74.67 526.82 75.28 526.71 75.90 526.61 C76.52 526.51 77.13 526.42 77.75 526.34 C78.37 526.25 78.98 526.18 79.60 526.11 C80.22 526.04 80.83 525.97 81.45 525.92 C82.07 525.86 82.68 525.81 83.30 525.76 C83.92 525.71 84.53 525.67 85.15 525.64 C85.77 525.60 86.38 525.57 87.00 525.54 C87.62 525.52 88.23 525.49 88.85 525.48 C89.47 525.46 90.08 525.44 90.70 525.43 C91.32 525.42 91.93 525.42 92.55 525.41 C93.17 525.41 93.78 525.40 94.40 525.40 C95.02 525.41 95.63 525.40 96.25 525.41 C96.87 525.42 97.48 525.43 98.10 525.45 C98.72 525.47 99.33 525.49 99.95 525.52 C100.57 525.56 101.18 525.60 101.80 525.66 C102.42 525.72 103.03 525.78 103.65 525.86 C104.27 525.95 104.88 526.04 105.50 526.15 C106.12 526.27 106.73 526.40 107.35 526.55 C107.97 526.71 108.58 526.88 109.20 527.08 C109.82 527.29 110.43 527.51 111.05 527.79 C111.67 528.07 112.28 528.36 112.90 528.76 C113.52 529.16 114.13 529.30 114.75 530.19 C115.37 531.08 116.60 532.91 116.60 534.10 C116.60 535.29 115.37 536.58 114.75 537.30 C114.13 538.03 113.52 538.15 112.90 538.48 C112.28 538.80 111.67 539.04 111.05 539.27 C110.43 539.50 109.82 539.68 109.20 539.85 C108.58 540.02 107.97 540.16 107.35 540.28 C106.73 540.41 106.12 540.51 105.50 540.61 C104.88 540.70 104.27 540.78 103.65 540.85 C103.03 540.91 102.42 540.97 101.80 541.01 C101.18 541.06 100.57 541.10 99.95 541.12 C99.33 541.15 98.72 541.17 98.10 541.19 C97.48 541.20 96.87 541.21 96.25 541.22 C95.63 541.22 95.02 541.22 94.40 541.22 C93.78 541.22 93.17 541.22 92.55 541.22 C91.93 541.21 91.32 541.21 90.70 541.20 C90.08 541.19 89.47 541.18 88.85 541.16 C88.23 541.15 87.62 541.13 87.00 541.11 C86.38 541.09 85.77 541.06 85.15 541.03 C84.53 541.00 83.92 540.97 83.30 540.93 C82.68 540.89 82.07 540.85 81.45 540.80 C80.83 540.76 80.22 540.71 79.60 540.65 C78.98 540.59 78.37 540.53 77.75 540.46 C77.13 540.39 76.52 540.31 75.90 540.23 C75.28 540.15 74.67 540.06 74.05 539.96 C73.43 539.87 72.82 539.76 72.20 539.65 C71.58 539.53 70.97 539.41 70.35 539.27 C69.73 539.13 69.12 538.99 68.50 538.82 C67.88 538.65 67.27 538.48 66.65 538.27 C66.03 538.06 65.42 537.85 64.80 537.57 C64.18 537.29 63.57 537.18 62.95 536.60 C62.33 536.02 61.10 535.03 61.10 534.10Z" fill="none" stroke="#3a3a3a" stroke-width="0.65"/><path d="M63.30 534.20 C63.30 533.35 64.46 532.04 65.04 531.40 C65.62 530.75 66.21 530.62 66.79 530.31 C67.37 530.00 67.95 529.76 68.53 529.52 C69.11 529.29 69.69 529.09 70.27 528.91 C70.85 528.72 71.44 528.55 72.02 528.40 C72.60 528.25 73.18 528.11 73.76 527.98 C74.34 527.85 74.92 527.73 75.50 527.62 C76.08 527.51 76.67 527.41 77.25 527.32 C77.83 527.23 78.41 527.14 78.99 527.07 C79.57 526.99 80.15 526.92 80.73 526.85 C81.31 526.79 81.90 526.73 82.48 526.68 C83.06 526.63 83.64 526.58 84.22 526.54 C84.80 526.49 85.38 526.46 85.96 526.42 C86.54 526.39 87.13 526.36 87.71 526.34 C88.29 526.31 88.87 526.29 89.45 526.28 C90.03 526.26 90.61 526.25 91.19 526.24 C91.77 526.23 92.36 526.22 92.94 526.22 C93.52 526.21 94.10 526.21 94.68 526.21 C95.26 526.21 95.84 526.21 96.42 526.22 C97.00 526.22 97.59 526.23 98.17 526.25 C98.75 526.27 99.33 526.29 99.91 526.32 C100.49 526.35 101.07 526.39 101.65 526.44 C102.23 526.49 102.82 526.56 103.40 526.63 C103.98 526.71 104.56 526.79 105.14 526.90 C105.72 527.00 106.30 527.12 106.88 527.26 C107.46 527.41 108.05 527.56 108.63 527.75 C109.21 527.94 109.79 528.14 110.37 528.40 C110.95 528.66 111.53 528.92 112.11 529.29 C112.69 529.66 113.28 529.79 113.86 530.60 C114.44 531.42 115.60 533.11 115.60 534.20 C115.60 535.29 114.44 536.47 113.86 537.14 C113.28 537.82 112.69 537.92 112.11 538.22 C111.53 538.52 110.95 538.74 110.37 538.95 C109.79 539.16 109.21 539.33 108.63 539.48 C108.05 539.64 107.46 539.77 106.88 539.88 C106.30 540.00 105.72 540.09 105.14 540.18 C104.56 540.27 103.98 540.34 103.40 540.40 C102.82 540.46 102.23 540.51 101.65 540.55 C101.07 540.60 100.49 540.63 99.91 540.66 C99.33 540.68 98.75 540.70 98.17 540.71 C97.59 540.73 97.00 540.73 96.42 540.74 C95.84 540.75 95.26 540.74 94.68 540.75 C94.10 540.75 93.52 540.74 92.94 540.74 C92.36 540.74 91.77 540.73 91.19 540.72 C90.61 540.72 90.03 540.71 89.45 540.69 C88.87 540.68 88.29 540.66 87.71 540.64 C87.13 540.62 86.54 540.60 85.96 540.57 C85.38 540.54 84.80 540.51 84.22 540.48 C83.64 540.44 83.06 540.40 82.48 540.36 C81.90 540.32 81.31 540.27 80.73 540.22 C80.15 540.16 79.57 540.11 78.99 540.04 C78.41 539.98 77.83 539.91 77.25 539.83 C76.67 539.76 76.08 539.68 75.50 539.59 C74.92 539.50 74.34 539.40 73.76 539.30 C73.18 539.19 72.60 539.08 72.02 538.95 C71.44 538.82 70.85 538.69 70.27 538.54 C69.69 538.38 69.11 538.22 68.53 538.03 C67.95 537.84 67.37 537.64 66.79 537.39 C66.21 537.13 65.62 537.03 65.04 536.50 C64.46 535.97 63.30 535.05 63.30 534.20Z" fill="none" stroke="#3a3a3a" stroke-width="0.65"/><path d="M66.30 534.30 C66.30 533.52 67.37 532.33 67.91 531.74 C68.45 531.15 68.98 531.04 69.52 530.75 C70.06 530.47 70.59 530.25 71.13 530.04 C71.67 529.82 72.20 529.64 72.74 529.47 C73.28 529.30 73.81 529.15 74.35 529.01 C74.89 528.87 75.42 528.75 75.96 528.63 C76.50 528.51 77.03 528.40 77.57 528.30 C78.11 528.20 78.64 528.11 79.18 528.03 C79.72 527.94 80.25 527.87 80.79 527.80 C81.33 527.73 81.86 527.66 82.40 527.60 C82.94 527.54 83.47 527.49 84.01 527.44 C84.55 527.39 85.08 527.35 85.62 527.31 C86.16 527.27 86.69 527.24 87.23 527.21 C87.77 527.18 88.30 527.15 88.84 527.13 C89.38 527.11 89.91 527.09 90.45 527.07 C90.99 527.06 91.52 527.05 92.06 527.04 C92.60 527.03 93.13 527.02 93.67 527.02 C94.21 527.02 94.74 527.01 95.28 527.01 C95.82 527.02 96.35 527.01 96.89 527.02 C97.43 527.03 97.96 527.03 98.50 527.05 C99.04 527.07 99.57 527.09 100.11 527.11 C100.65 527.14 101.18 527.18 101.72 527.23 C102.26 527.27 102.79 527.33 103.33 527.40 C103.87 527.47 104.40 527.55 104.94 527.64 C105.48 527.74 106.01 527.85 106.55 527.98 C107.09 528.10 107.62 528.25 108.16 528.42 C108.70 528.59 109.23 528.78 109.77 529.01 C110.31 529.25 110.84 529.49 111.38 529.82 C111.92 530.16 112.45 530.28 112.99 531.02 C113.53 531.77 114.60 533.31 114.60 534.30 C114.60 535.29 113.53 536.37 112.99 536.99 C112.45 537.60 111.92 537.69 111.38 537.97 C110.84 538.24 110.31 538.44 109.77 538.63 C109.23 538.82 108.70 538.98 108.16 539.12 C107.62 539.26 107.09 539.37 106.55 539.48 C106.01 539.59 105.48 539.67 104.94 539.75 C104.40 539.83 103.87 539.90 103.33 539.95 C102.79 540.01 102.26 540.05 101.72 540.09 C101.18 540.13 100.65 540.16 100.11 540.19 C99.57 540.21 99.04 540.23 98.50 540.24 C97.96 540.25 97.43 540.26 96.89 540.26 C96.35 540.27 95.82 540.27 95.28 540.27 C94.74 540.27 94.21 540.27 93.67 540.26 C93.13 540.26 92.60 540.26 92.06 540.25 C91.52 540.24 90.99 540.23 90.45 540.22 C89.91 540.21 89.38 540.19 88.84 540.17 C88.30 540.15 87.77 540.13 87.23 540.11 C86.69 540.08 86.16 540.06 85.62 540.02 C85.08 539.99 84.55 539.96 84.01 539.92 C83.47 539.88 82.94 539.83 82.40 539.79 C81.86 539.74 81.33 539.69 80.79 539.63 C80.25 539.57 79.72 539.51 79.18 539.44 C78.64 539.37 78.11 539.29 77.57 539.21 C77.03 539.13 76.50 539.04 75.96 538.95 C75.42 538.85 74.89 538.75 74.35 538.63 C73.81 538.52 73.28 538.39 72.74 538.25 C72.20 538.11 71.67 537.97 71.13 537.79 C70.59 537.62 70.06 537.44 69.52 537.21 C68.98 536.97 68.45 536.88 67.91 536.39 C67.37 535.91 66.30 535.08 66.30 534.30Z" fill="#6a6a6a" stroke="#2a2a2a" stroke-width="0.6"/><path d="M68.50 534.40 C68.50 533.70 69.50 532.62 70.00 532.09 C70.50 531.56 71.01 531.45 71.51 531.19 C72.01 530.94 72.51 530.74 73.01 530.55 C73.51 530.36 74.01 530.19 74.51 530.04 C75.01 529.89 75.52 529.75 76.02 529.62 C76.52 529.50 77.02 529.38 77.52 529.28 C78.02 529.17 78.52 529.07 79.02 528.98 C79.52 528.89 80.03 528.81 80.53 528.73 C81.03 528.66 81.53 528.59 82.03 528.53 C82.53 528.46 83.03 528.40 83.53 528.35 C84.03 528.30 84.54 528.25 85.04 528.21 C85.54 528.16 86.04 528.12 86.54 528.09 C87.04 528.05 87.54 528.02 88.04 528.00 C88.54 527.97 89.05 527.94 89.55 527.92 C90.05 527.90 90.55 527.89 91.05 527.87 C91.55 527.86 92.05 527.85 92.55 527.84 C93.05 527.83 93.56 527.83 94.06 527.82 C94.56 527.82 95.06 527.82 95.56 527.82 C96.06 527.82 96.56 527.82 97.06 527.83 C97.56 527.83 98.07 527.84 98.57 527.85 C99.07 527.87 99.57 527.88 100.07 527.91 C100.57 527.94 101.07 527.97 101.57 528.01 C102.07 528.05 102.58 528.10 103.08 528.17 C103.58 528.23 104.08 528.30 104.58 528.39 C105.08 528.47 105.58 528.57 106.08 528.69 C106.58 528.80 107.09 528.93 107.59 529.09 C108.09 529.25 108.59 529.41 109.09 529.62 C109.59 529.84 110.09 530.05 110.59 530.36 C111.09 530.66 111.60 530.77 112.10 531.44 C112.60 532.11 113.60 533.50 113.60 534.40 C113.60 535.30 112.60 536.27 112.10 536.83 C111.60 537.38 111.09 537.46 110.59 537.71 C110.09 537.96 109.59 538.14 109.09 538.31 C108.59 538.48 108.09 538.62 107.59 538.75 C107.09 538.88 106.58 538.98 106.08 539.08 C105.58 539.18 105.08 539.25 104.58 539.33 C104.08 539.40 103.58 539.45 103.08 539.51 C102.58 539.56 102.07 539.60 101.57 539.63 C101.07 539.67 100.57 539.69 100.07 539.72 C99.57 539.74 99.07 539.75 98.57 539.76 C98.07 539.78 97.56 539.78 97.06 539.79 C96.56 539.79 96.06 539.79 95.56 539.79 C95.06 539.79 94.56 539.79 94.06 539.79 C93.56 539.78 93.05 539.78 92.55 539.77 C92.05 539.77 91.55 539.76 91.05 539.75 C90.55 539.73 90.05 539.72 89.55 539.70 C89.05 539.69 88.54 539.67 88.04 539.65 C87.54 539.62 87.04 539.60 86.54 539.57 C86.04 539.54 85.54 539.51 85.04 539.47 C84.54 539.44 84.03 539.40 83.53 539.36 C83.03 539.31 82.53 539.26 82.03 539.21 C81.53 539.16 81.03 539.10 80.53 539.04 C80.03 538.98 79.52 538.91 79.02 538.84 C78.52 538.76 78.02 538.69 77.52 538.60 C77.02 538.51 76.52 538.42 76.02 538.31 C75.52 538.21 75.01 538.10 74.51 537.97 C74.01 537.84 73.51 537.71 73.01 537.55 C72.51 537.40 72.01 537.24 71.51 537.03 C71.01 536.82 70.50 536.73 70.00 536.29 C69.50 535.85 68.50 535.10 68.50 534.40Z" fill="#181818"/><path d="M91.19 534.50 C91.19 533.67 91.66 532.36 91.90 531.76 C92.14 531.17 92.37 531.15 92.61 530.93 C92.85 530.72 93.09 530.59 93.33 530.46 C93.56 530.34 93.80 530.26 94.04 530.18 C94.28 530.11 94.52 530.06 94.75 530.01 C94.99 529.97 95.23 529.94 95.47 529.91 C95.71 529.88 95.94 529.87 96.18 529.85 C96.42 529.84 96.66 529.83 96.90 529.82 C97.13 529.82 97.37 529.81 97.61 529.81 C97.85 529.81 98.09 529.80 98.32 529.80 C98.56 529.80 98.80 529.80 99.04 529.80 C99.28 529.80 99.51 529.80 99.75 529.80 C99.99 529.80 100.23 529.80 100.46 529.80 C100.70 529.80 100.94 529.80 101.18 529.80 C101.42 529.80 101.65 529.80 101.89 529.80 C102.13 529.80 102.37 529.80 102.61 529.80 C102.84 529.80 103.08 529.80 103.32 529.80 C103.56 529.80 103.80 529.80 104.03 529.80 C104.27 529.80 104.51 529.80 104.75 529.80 C104.99 529.80 105.22 529.80 105.46 529.80 C105.70 529.80 105.94 529.81 106.18 529.81 C106.41 529.81 106.65 529.82 106.89 529.82 C107.13 529.83 107.37 529.84 107.60 529.85 C107.84 529.87 108.08 529.88 108.32 529.91 C108.55 529.94 108.79 529.97 109.03 530.01 C109.27 530.06 109.51 530.11 109.74 530.18 C109.98 530.26 110.22 530.34 110.46 530.46 C110.70 530.59 110.93 530.72 111.17 530.93 C111.41 531.15 111.65 531.17 111.89 531.76 C112.12 532.36 112.60 533.67 112.60 534.50 C112.60 535.33 112.12 536.25 111.89 536.74 C111.65 537.23 111.41 537.24 111.17 537.42 C110.93 537.60 110.70 537.70 110.46 537.81 C110.22 537.91 109.98 537.98 109.74 538.04 C109.51 538.10 109.27 538.14 109.03 538.18 C108.79 538.21 108.55 538.24 108.32 538.26 C108.08 538.28 107.84 538.29 107.60 538.31 C107.37 538.32 107.13 538.32 106.89 538.33 C106.65 538.34 106.41 538.34 106.18 538.34 C105.94 538.34 105.70 538.35 105.46 538.35 C105.22 538.35 104.99 538.35 104.75 538.35 C104.51 538.35 104.27 538.35 104.03 538.35 C103.80 538.35 103.56 538.35 103.32 538.35 C103.08 538.35 102.84 538.35 102.61 538.35 C102.37 538.35 102.13 538.35 101.89 538.35 C101.65 538.35 101.42 538.35 101.18 538.35 C100.94 538.35 100.70 538.35 100.46 538.35 C100.23 538.35 99.99 538.35 99.75 538.35 C99.51 538.35 99.28 538.35 99.04 538.35 C98.80 538.35 98.56 538.35 98.32 538.35 C98.09 538.35 97.85 538.34 97.61 538.34 C97.37 538.34 97.13 538.34 96.90 538.33 C96.66 538.32 96.42 538.32 96.18 538.31 C95.94 538.29 95.71 538.28 95.47 538.26 C95.23 538.24 94.99 538.21 94.75 538.18 C94.52 538.14 94.28 538.10 94.04 538.04 C93.80 537.98 93.56 537.91 93.33 537.81 C93.09 537.70 92.85 537.60 92.61 537.42 C92.37 537.24 92.14 537.23 91.90 536.74 C91.66 536.25 91.19 535.33 91.19 534.50Z" fill="#000"/><path d="M78.0 535.8 h1.7" stroke="#fff" stroke-width="0.6" stroke-opacity="0.85"/><path d="M80.7 534.0 h1.2" stroke="#fff" stroke-width="0.6" stroke-opacity="0.85"/><path d="M89.7 535.5 h0.7" stroke="#fff" stroke-width="0.6" stroke-opacity="0.85"/><path d="M75.5 535.7 h1.2" stroke="#fff" stroke-width="0.6" stroke-opacity="0.85"/><path d="M92.2 531.4 h1.2" stroke="#fff" stroke-width="0.6" stroke-opacity="0.85"/><path d="M91.3 532.6 h1.9" stroke="#fff" stroke-width="0.6" stroke-opacity="0.85"/><path d="M95.4 531.6 h0.6" stroke="#fff" stroke-width="0.6" stroke-opacity="0.85"/><path d="M87.2 536.3 h1.1" stroke="#fff" stroke-width="0.6" stroke-opacity="0.85"/><path d="M79.8 533.6 h0.6" stroke="#fff" stroke-width="0.6" stroke-opacity="0.85"/><path d="M79.9 533.7 h1.3" stroke="#fff" stroke-width="0.6" stroke-opacity="0.85"/><path d="M80.2 532.6 h0.9" stroke="#fff" stroke-width="0.6" stroke-opacity="0.85"/><path d="M85.4 532.9 h0.6" stroke="#fff" stroke-width="0.6" stroke-opacity="0.85"/><path d="M93.9 534.3 h1.5" stroke="#fff" stroke-width="0.6" stroke-opacity="0.85"/><path d="M79.1 536.6 h1.8" stroke="#fff" stroke-width="0.6" stroke-opacity="0.85"/><path d="M77.6 533.1 h1.6" stroke="#fff" stroke-width="0.6" stroke-opacity="0.85"/><path d="M91.1 536.3 h1.2" stroke="#fff" stroke-width="0.6" stroke-opacity="0.85"/><path d="M93.8 534.9 h1.0" stroke="#fff" stroke-width="0.6" stroke-opacity="0.85"/><path d="M88.3 536.0 h1.8" stroke="#fff" stroke-width="0.6" stroke-opacity="0.85"/><path d="M86.4 534.5 h0.6" stroke="#fff" stroke-width="0.6" stroke-opacity="0.85"/><path d="M80.4 535.5 h1.2" stroke="#fff" stroke-width="0.6" stroke-opacity="0.85"/><path d="M78.8 534.3 h1.6" stroke="#fff" stroke-width="0.6" stroke-opacity="0.85"/><path d="M90.2 533.3 h1.2" stroke="#fff" stroke-width="0.6" stroke-opacity="0.85"/><path d="M86.5 535.4 h1.3" stroke="#fff" stroke-width="0.6" stroke-opacity="0.85"/><path d="M83.8 533.9 h0.6" stroke="#fff" stroke-width="0.6" stroke-opacity="0.85"/><path d="M75.9 535.1 h2.0" stroke="#fff" stroke-width="0.6" stroke-opacity="0.85"/><path d="M88.4 533.4 h0.8" stroke="#fff" stroke-width="0.6" stroke-opacity="0.85"/><path d="M86.3 536.5 h1.7" stroke="#fff" stroke-width="0.6" stroke-opacity="0.85"/><path d="M87.2 535.9 h0.9" stroke="#fff" stroke-width="0.6" stroke-opacity="0.85"/><path d="M86.6 536.4 h1.4" stroke="#fff" stroke-width="0.6" stroke-opacity="0.85"/><path d="M85.3 532.8 h1.4" stroke="#fff" stroke-width="0.6" stroke-opacity="0.85"/><path d="M96.7 531.4 h1.7" stroke="#fff" stroke-width="0.6" stroke-opacity="0.85"/><path d="M93.6 536.0 h1.6" stroke="#fff" stroke-width="0.6" stroke-opacity="0.85"/><path d="M93.3 534.1 h1.4" stroke="#fff" stroke-width="0.6" stroke-opacity="0.85"/><path d="M84.6 531.7 h1.8" stroke="#fff" stroke-width="0.6" stroke-opacity="0.85"/><path d="M83.6 534.4 h1.9" stroke="#aaa" stroke-width="0.6" stroke-opacity="0.9"/><path d="M83.8 534.1 h1.4" stroke="#aaa" stroke-width="0.6" stroke-opacity="0.9"/><path d="M78.4 534.1 h1.5" stroke="#aaa" stroke-width="0.6" stroke-opacity="0.9"/><path d="M90.1 531.1 h1.0" stroke="#aaa" stroke-width="0.6" stroke-opacity="0.9"/><path d="M76.6 536.2 h1.6" stroke="#aaa" stroke-width="0.6" stroke-opacity="0.9"/><path d="M75.7 537.5 h2.0" stroke="#aaa" stroke-width="0.6" stroke-opacity="0.9"/><path d="M87.5 534.8 h0.8" stroke="#aaa" stroke-width="0.6" stroke-opacity="0.9"/><path d="M75.2 534.2 h0.7" stroke="#aaa" stroke-width="0.6" stroke-opacity="0.9"/><path d="M78.6 532.1 h0.6" stroke="#aaa" stroke-width="0.6" stroke-opacity="0.9"/><path d="M83.8 533.6 h1.8" stroke="#aaa" stroke-width="0.6" stroke-opacity="0.9"/><path d="M84.9 535.0 h1.3" stroke="#aaa" stroke-width="0.6" stroke-opacity="0.9"/><path d="M87.6 533.7 h1.0" stroke="#aaa" stroke-width="0.6" stroke-opacity="0.9"/><path d="M94.1 537.6 h1.8" stroke="#aaa" stroke-width="0.6" stroke-opacity="0.9"/><path d="M88.5 532.7 h0.9" stroke="#aaa" stroke-width="0.6" stroke-opacity="0.9"/><path d="M80.5 530.9 h1.7" stroke="#aaa" stroke-width="0.6" stroke-opacity="0.9"/><path d="M82.6 536.5 h1.1" stroke="#aaa" stroke-width="0.6" stroke-opacity="0.9"/><path d="M73.67 532.50 L74.42 532.41 L75.17 531.93 L75.92 531.26 L76.67 531.18 L77.42 530.94 L78.16 530.92 L78.91 530.88 L79.66 530.28 L80.41 530.15 L81.16 530.64 L81.90 530.30 L82.65 530.48 L83.40 529.92 L84.15 530.20 L84.90 530.37 L85.65 530.01 L86.39 530.50 L87.14 530.46 L87.89 529.85 L88.64 529.84 L89.39 530.20 L90.13 530.48 L90.88 530.09 L91.63 529.97 L92.38 530.12 L93.13 529.84 L93.88 529.98 L94.62 530.13 L95.37 530.17 L96.12 529.99" fill="none" stroke="#bbb" stroke-width="0.45" stroke-opacity="0.55"/><path d="M73.67 533.23 L74.42 532.86 L75.17 532.78 L75.92 532.47 L76.67 532.13 L77.42 532.58 L78.16 532.29 L78.91 532.27 L79.66 531.88 L80.41 532.39 L81.16 532.25 L81.90 531.70 L82.65 531.82 L83.40 532.07 L84.15 532.05 L84.90 532.19 L85.65 531.82 L86.39 532.10 L87.14 531.99 L87.89 531.73 L88.64 531.92 L89.39 532.13 L90.13 532.10 L90.88 531.87 L91.63 531.92 L92.38 531.54 L93.13 531.68 L93.88 532.07 L94.62 531.80 L95.37 531.63 L96.12 531.90" fill="none" stroke="#bbb" stroke-width="0.45" stroke-opacity="0.55"/><path d="M73.67 534.21 L74.42 534.07 L75.17 533.78 L75.92 533.76 L76.67 533.76 L77.42 533.91 L78.16 533.70 L78.91 533.58 L79.66 533.63 L80.41 533.29 L81.16 533.28 L81.90 533.73 L82.65 533.92 L83.40 533.64 L84.15 533.49 L84.90 533.33 L85.65 533.56 L86.39 533.90 L87.14 533.75 L87.89 533.58 L88.64 533.81 L89.39 533.37 L90.13 533.56 L90.88 533.87 L91.63 533.61 L92.38 533.53 L93.13 533.39 L93.88 533.59 L94.62 533.87 L95.37 533.21 L96.12 533.75" fill="none" stroke="#bbb" stroke-width="0.45" stroke-opacity="0.55"/><path d="M73.67 534.98 L74.42 535.16 L75.17 535.15 L75.92 535.26 L76.67 535.12 L77.42 535.19 L78.16 535.13 L78.91 534.90 L79.66 535.50 L80.41 535.31 L81.16 535.06 L81.90 535.29 L82.65 535.29 L83.40 535.20 L84.15 535.20 L84.90 535.34 L85.65 535.40 L86.39 535.40 L87.14 535.29 L87.89 534.99 L88.64 535.13 L89.39 535.10 L90.13 535.38 L90.88 535.58 L91.63 535.53 L92.38 535.53 L93.13 535.55 L93.88 535.15 L94.62 535.56 L95.37 535.44 L96.12 535.03" fill="none" stroke="#bbb" stroke-width="0.45" stroke-opacity="0.55"/><path d="M73.67 534.96 L74.42 535.28 L75.17 536.03 L75.92 535.85 L76.67 535.88 L77.42 536.36 L78.16 536.25 L78.91 536.13 L79.66 536.25 L80.41 536.56 L81.16 536.35 L81.90 536.45 L82.65 536.79 L83.40 536.63 L84.15 536.55 L84.90 536.67 L85.65 536.36 L86.39 536.62 L87.14 536.65 L87.89 536.49 L88.64 536.43 L89.39 536.99 L90.13 536.72 L90.88 536.51 L91.63 536.78 L92.38 536.93 L93.13 536.37 L93.88 536.37 L94.62 536.46 L95.37 536.86 L96.12 536.47" fill="none" stroke="#bbb" stroke-width="0.45" stroke-opacity="0.55"/><path d="M73.67 535.98 L74.42 536.48 L75.17 536.75 L75.92 536.80 L76.67 537.55 L77.42 537.60 L78.16 537.55 L78.91 537.46 L79.66 537.85 L80.41 537.75 L81.16 537.94 L81.90 537.82 L82.65 538.07 L83.40 537.71 L84.15 537.90 L84.90 538.38 L85.65 538.33 L86.39 537.94 L87.14 538.34 L87.89 537.96 L88.64 538.40 L89.39 538.27 L90.13 538.04 L90.88 537.92 L91.63 537.75 L92.38 538.36 L93.13 537.77 L93.88 538.32 L94.62 538.42 L95.37 538.14 L96.12 537.86" fill="none" stroke="#bbb" stroke-width="0.45" stroke-opacity="0.55"/></g>
<g clip-path="url(#c01)"><path d="M58.00 619.00 C58.00 618.02 59.34 616.71 60.02 616.02 C60.69 615.33 61.36 615.19 62.03 614.86 C62.71 614.53 63.38 614.27 64.05 614.03 C64.72 613.78 65.39 613.57 66.07 613.37 C66.74 613.17 67.41 612.99 68.08 612.83 C68.76 612.67 69.43 612.52 70.10 612.38 C70.77 612.24 71.44 612.12 72.12 612.00 C72.79 611.89 73.46 611.78 74.13 611.68 C74.81 611.58 75.48 611.49 76.15 611.41 C76.82 611.33 77.49 611.25 78.17 611.19 C78.84 611.12 79.51 611.06 80.18 611.00 C80.86 610.94 81.53 610.89 82.20 610.85 C82.87 610.80 83.54 610.76 84.22 610.73 C84.89 610.69 85.56 610.66 86.23 610.63 C86.91 610.61 87.58 610.59 88.25 610.57 C88.92 610.55 89.59 610.54 90.27 610.53 C90.94 610.52 91.61 610.51 92.28 610.51 C92.96 610.50 93.63 610.50 94.30 610.50 C94.97 610.50 95.64 610.50 96.32 610.51 C96.99 610.51 97.66 610.52 98.33 610.54 C99.01 610.56 99.68 610.58 100.35 610.62 C101.02 610.65 101.69 610.69 102.37 610.75 C103.04 610.80 103.71 610.87 104.38 610.95 C105.06 611.03 105.73 611.12 106.40 611.23 C107.07 611.34 107.74 611.47 108.42 611.62 C109.09 611.77 109.76 611.94 110.43 612.14 C111.11 612.34 111.78 612.56 112.45 612.83 C113.12 613.10 113.79 613.39 114.47 613.78 C115.14 614.17 115.81 614.30 116.48 615.18 C117.16 616.05 118.50 617.74 118.50 619.00 C118.50 620.26 117.16 621.88 116.48 622.73 C115.81 623.58 115.14 623.72 114.47 624.10 C113.79 624.48 113.12 624.76 112.45 625.02 C111.78 625.29 111.11 625.50 110.43 625.70 C109.76 625.90 109.09 626.06 108.42 626.21 C107.74 626.35 107.07 626.48 106.40 626.58 C105.73 626.69 105.06 626.78 104.38 626.86 C103.71 626.94 103.04 627.00 102.37 627.06 C101.69 627.11 101.02 627.15 100.35 627.19 C99.68 627.22 99.01 627.24 98.33 627.26 C97.66 627.28 96.99 627.29 96.32 627.29 C95.64 627.30 94.97 627.30 94.30 627.30 C93.63 627.30 92.96 627.30 92.28 627.29 C91.61 627.29 90.94 627.28 90.27 627.27 C89.59 627.26 88.92 627.25 88.25 627.23 C87.58 627.21 86.91 627.19 86.23 627.17 C85.56 627.14 84.89 627.11 84.22 627.08 C83.54 627.04 82.87 627.01 82.20 626.96 C81.53 626.92 80.86 626.87 80.18 626.81 C79.51 626.76 78.84 626.70 78.17 626.63 C77.49 626.56 76.82 626.49 76.15 626.41 C75.48 626.33 74.81 626.24 74.13 626.15 C73.46 626.05 72.79 625.95 72.12 625.83 C71.44 625.72 70.77 625.60 70.10 625.46 C69.43 625.33 68.76 625.19 68.08 625.02 C67.41 624.86 66.74 624.69 66.07 624.50 C65.39 624.30 64.72 624.10 64.05 623.86 C63.38 623.61 62.71 623.37 62.03 623.04 C61.36 622.72 60.69 622.59 60.02 621.91 C59.34 621.24 58.00 619.98 58.00 619.00Z" fill="#fff"/><path d="M58.00 619.00 C58.00 618.02 59.34 616.71 60.02 616.02 C60.69 615.33 61.36 615.19 62.03 614.86 C62.71 614.53 63.38 614.27 64.05 614.03 C64.72 613.78 65.39 613.57 66.07 613.37 C66.74 613.17 67.41 612.99 68.08 612.83 C68.76 612.67 69.43 612.52 70.10 612.38 C70.77 612.24 71.44 612.12 72.12 612.00 C72.79 611.89 73.46 611.78 74.13 611.68 C74.81 611.58 75.48 611.49 76.15 611.41 C76.82 611.33 77.49 611.25 78.17 611.19 C78.84 611.12 79.51 611.06 80.18 611.00 C80.86 610.94 81.53 610.89 82.20 610.85 C82.87 610.80 83.54 610.76 84.22 610.73 C84.89 610.69 85.56 610.66 86.23 610.63 C86.91 610.61 87.58 610.59 88.25 610.57 C88.92 610.55 89.59 610.54 90.27 610.53 C90.94 610.52 91.61 610.51 92.28 610.51 C92.96 610.50 93.63 610.50 94.30 610.50 C94.97 610.50 95.64 610.50 96.32 610.51 C96.99 610.51 97.66 610.52 98.33 610.54 C99.01 610.56 99.68 610.58 100.35 610.62 C101.02 610.65 101.69 610.69 102.37 610.75 C103.04 610.80 103.71 610.87 104.38 610.95 C105.06 611.03 105.73 611.12 106.40 611.23 C107.07 611.34 107.74 611.47 108.42 611.62 C109.09 611.77 109.76 611.94 110.43 612.14 C111.11 612.34 111.78 612.56 112.45 612.83 C113.12 613.10 113.79 613.39 114.47 613.78 C115.14 614.17 115.81 614.30 116.48 615.18 C117.16 616.05 118.50 617.74 118.50 619.00 C118.50 620.26 117.16 621.88 116.48 622.73 C115.81 623.58 115.14 623.72 114.47 624.10 C113.79 624.48 113.12 624.76 112.45 625.02 C111.78 625.29 111.11 625.50 110.43 625.70 C109.76 625.90 109.09 626.06 108.42 626.21 C107.74 626.35 107.07 626.48 106.40 626.58 C105.73 626.69 105.06 626.78 104.38 626.86 C103.71 626.94 103.04 627.00 102.37 627.06 C101.69 627.11 101.02 627.15 100.35 627.19 C99.68 627.22 99.01 627.24 98.33 627.26 C97.66 627.28 96.99 627.29 96.32 627.29 C95.64 627.30 94.97 627.30 94.30 627.30 C93.63 627.30 92.96 627.30 92.28 627.29 C91.61 627.29 90.94 627.28 90.27 627.27 C89.59 627.26 88.92 627.25 88.25 627.23 C87.58 627.21 86.91 627.19 86.23 627.17 C85.56 627.14 84.89 627.11 84.22 627.08 C83.54 627.04 82.87 627.01 82.20 626.96 C81.53 626.92 80.86 626.87 80.18 626.81 C79.51 626.76 78.84 626.70 78.17 626.63 C77.49 626.56 76.82 626.49 76.15 626.41 C75.48 626.33 74.81 626.24 74.13 626.15 C73.46 626.05 72.79 625.95 72.12 625.83 C71.44 625.72 70.77 625.60 70.10 625.46 C69.43 625.33 68.76 625.19 68.08 625.02 C67.41 624.86 66.74 624.69 66.07 624.50 C65.39 624.30 64.72 624.10 64.05 623.86 C63.38 623.61 62.71 623.37 62.03 623.04 C61.36 622.72 60.69 622.59 60.02 621.91 C59.34 621.24 58.00 619.98 58.00 619.00Z" fill="none" stroke="#3a3a3a" stroke-width="0.65"/><path d="M60.20 619.10 C60.20 618.19 61.47 616.98 62.11 616.34 C62.75 615.70 63.38 615.58 64.02 615.27 C64.66 614.96 65.29 614.73 65.93 614.50 C66.57 614.27 67.20 614.07 67.84 613.89 C68.48 613.71 69.11 613.54 69.75 613.39 C70.39 613.24 71.02 613.10 71.66 612.98 C72.30 612.85 72.93 612.73 73.57 612.63 C74.21 612.52 74.84 612.42 75.48 612.33 C76.12 612.24 76.75 612.16 77.39 612.08 C78.03 612.00 78.66 611.94 79.30 611.87 C79.94 611.81 80.57 611.75 81.21 611.70 C81.85 611.65 82.48 611.60 83.12 611.56 C83.76 611.52 84.39 611.48 85.03 611.45 C85.67 611.41 86.30 611.39 86.94 611.36 C87.58 611.34 88.21 611.32 88.85 611.30 C89.49 611.28 90.12 611.27 90.76 611.26 C91.40 611.25 92.03 611.25 92.67 611.24 C93.31 611.24 93.94 611.24 94.58 611.24 C95.22 611.24 95.85 611.24 96.49 611.24 C97.13 611.25 97.76 611.26 98.40 611.27 C99.04 611.29 99.67 611.31 100.31 611.35 C100.95 611.38 101.58 611.42 102.22 611.47 C102.86 611.52 103.49 611.58 104.13 611.65 C104.77 611.73 105.40 611.81 106.04 611.92 C106.68 612.02 107.31 612.13 107.95 612.27 C108.59 612.41 109.22 612.57 109.86 612.75 C110.50 612.94 111.13 613.14 111.77 613.39 C112.41 613.65 113.04 613.91 113.68 614.27 C114.32 614.63 114.95 614.76 115.59 615.56 C116.23 616.37 117.50 617.93 117.50 619.10 C117.50 620.27 116.23 621.77 115.59 622.55 C114.95 623.34 114.32 623.46 113.68 623.82 C113.04 624.17 112.41 624.43 111.77 624.67 C111.13 624.92 110.50 625.11 109.86 625.30 C109.22 625.48 108.59 625.63 107.95 625.77 C107.31 625.90 106.68 626.01 106.04 626.12 C105.40 626.22 104.77 626.30 104.13 626.37 C103.49 626.45 102.86 626.50 102.22 626.55 C101.58 626.60 100.95 626.64 100.31 626.67 C99.67 626.70 99.04 626.72 98.40 626.74 C97.76 626.76 97.13 626.77 96.49 626.77 C95.85 626.78 95.22 626.78 94.58 626.78 C93.94 626.78 93.31 626.78 92.67 626.77 C92.03 626.77 91.40 626.76 90.76 626.75 C90.12 626.74 89.49 626.73 88.85 626.71 C88.21 626.70 87.58 626.68 86.94 626.66 C86.30 626.63 85.67 626.60 85.03 626.57 C84.39 626.54 83.76 626.51 83.12 626.46 C82.48 626.42 81.85 626.38 81.21 626.33 C80.57 626.28 79.94 626.22 79.30 626.16 C78.66 626.10 78.03 626.03 77.39 625.95 C76.75 625.88 76.12 625.80 75.48 625.71 C74.84 625.62 74.21 625.53 73.57 625.42 C72.93 625.32 72.30 625.20 71.66 625.08 C71.02 624.95 70.39 624.82 69.75 624.67 C69.11 624.52 68.48 624.37 67.84 624.19 C67.20 624.01 66.57 623.82 65.93 623.59 C65.29 623.37 64.66 623.14 64.02 622.84 C63.38 622.54 62.75 622.42 62.11 621.79 C61.47 621.17 60.20 620.01 60.20 619.10Z" fill="none" stroke="#3a3a3a" stroke-width="0.65"/><path d="M62.40 619.20 C62.40 618.36 63.60 617.25 64.20 616.66 C64.80 616.08 65.41 615.96 66.01 615.68 C66.61 615.40 67.21 615.18 67.81 614.97 C68.41 614.76 69.01 614.58 69.61 614.41 C70.21 614.24 70.82 614.10 71.42 613.96 C72.02 613.82 72.62 613.69 73.22 613.57 C73.82 613.46 74.42 613.35 75.02 613.25 C75.62 613.15 76.23 613.06 76.83 612.98 C77.43 612.90 78.03 612.82 78.63 612.75 C79.23 612.68 79.83 612.62 80.43 612.56 C81.03 612.50 81.64 612.45 82.24 612.40 C82.84 612.35 83.44 612.31 84.04 612.27 C84.64 612.23 85.24 612.20 85.84 612.17 C86.44 612.14 87.05 612.11 87.65 612.09 C88.25 612.07 88.85 612.05 89.45 612.03 C90.05 612.02 90.65 612.01 91.25 612.00 C91.85 611.99 92.46 611.98 93.06 611.98 C93.66 611.98 94.26 611.97 94.86 611.98 C95.46 611.98 96.06 611.97 96.66 611.98 C97.26 611.99 97.87 611.99 98.47 612.01 C99.07 612.02 99.67 612.04 100.27 612.07 C100.87 612.10 101.47 612.14 102.07 612.19 C102.67 612.23 103.28 612.29 103.88 612.36 C104.48 612.42 105.08 612.50 105.68 612.60 C106.28 612.69 106.88 612.80 107.48 612.93 C108.08 613.06 108.69 613.20 109.29 613.37 C109.89 613.54 110.49 613.72 111.09 613.96 C111.69 614.19 112.29 614.43 112.89 614.76 C113.49 615.09 114.10 615.21 114.70 615.95 C115.30 616.69 116.50 618.13 116.50 619.20 C116.50 620.27 115.30 621.65 114.70 622.37 C114.10 623.10 113.49 623.21 112.89 623.53 C112.29 623.86 111.69 624.09 111.09 624.32 C110.49 624.55 109.89 624.73 109.29 624.89 C108.69 625.06 108.08 625.20 107.48 625.33 C106.88 625.45 106.28 625.55 105.68 625.65 C105.08 625.74 104.48 625.82 103.88 625.88 C103.28 625.95 102.67 626.00 102.07 626.05 C101.47 626.10 100.87 626.13 100.27 626.16 C99.67 626.19 99.07 626.21 98.47 626.22 C97.87 626.24 97.26 626.24 96.66 626.25 C96.06 626.26 95.46 626.25 94.86 626.25 C94.26 626.26 93.66 626.25 93.06 626.25 C92.46 626.25 91.85 626.24 91.25 626.23 C90.65 626.22 90.05 626.21 89.45 626.20 C88.85 626.18 88.25 626.16 87.65 626.14 C87.05 626.12 86.44 626.10 85.84 626.07 C85.24 626.04 84.64 626.00 84.04 625.97 C83.44 625.93 82.84 625.89 82.24 625.84 C81.64 625.79 81.03 625.74 80.43 625.69 C79.83 625.63 79.23 625.57 78.63 625.50 C78.03 625.43 77.43 625.36 76.83 625.27 C76.23 625.19 75.62 625.11 75.02 625.01 C74.42 624.91 73.82 624.81 73.22 624.69 C72.62 624.58 72.02 624.46 71.42 624.32 C70.82 624.18 70.21 624.04 69.61 623.87 C69.01 623.71 68.41 623.54 67.81 623.33 C67.21 623.12 66.61 622.91 66.01 622.64 C65.41 622.36 64.80 622.25 64.20 621.68 C63.60 621.10 62.40 620.04 62.40 619.20Z" fill="none" stroke="#3a3a3a" stroke-width="0.65"/><path d="M65.40 619.30 C65.40 618.54 66.51 617.52 67.07 616.99 C67.63 616.45 68.18 616.35 68.74 616.09 C69.30 615.83 69.85 615.64 70.41 615.44 C70.97 615.25 71.52 615.09 72.08 614.94 C72.64 614.78 73.19 614.65 73.75 614.52 C74.31 614.39 74.86 614.28 75.42 614.17 C75.98 614.06 76.53 613.97 77.09 613.88 C77.65 613.79 78.20 613.70 78.76 613.63 C79.32 613.55 79.87 613.48 80.43 613.42 C80.99 613.36 81.54 613.30 82.10 613.24 C82.66 613.19 83.21 613.14 83.77 613.10 C84.33 613.06 84.88 613.02 85.44 612.98 C86.00 612.95 86.55 612.92 87.11 612.89 C87.67 612.86 88.22 612.84 88.78 612.82 C89.34 612.80 89.89 612.78 90.45 612.77 C91.01 612.75 91.56 612.74 92.12 612.73 C92.68 612.73 93.23 612.72 93.79 612.72 C94.35 612.71 94.90 612.71 95.46 612.71 C96.02 612.71 96.57 612.71 97.13 612.72 C97.69 612.72 98.24 612.73 98.80 612.74 C99.36 612.76 99.91 612.78 100.47 612.80 C101.03 612.83 101.58 612.86 102.14 612.90 C102.70 612.95 103.25 613.00 103.81 613.06 C104.37 613.12 104.92 613.19 105.48 613.28 C106.04 613.37 106.59 613.46 107.15 613.58 C107.71 613.70 108.26 613.83 108.82 613.98 C109.38 614.14 109.93 614.31 110.49 614.52 C111.05 614.73 111.60 614.95 112.16 615.25 C112.72 615.56 113.27 615.66 113.83 616.34 C114.39 617.01 115.50 618.32 115.50 619.30 C115.50 620.28 114.39 621.54 113.83 622.19 C113.27 622.85 112.72 622.96 112.16 623.25 C111.60 623.55 111.05 623.76 110.49 623.97 C109.93 624.17 109.38 624.34 108.82 624.49 C108.26 624.64 107.71 624.77 107.15 624.88 C106.59 625.00 106.04 625.09 105.48 625.18 C104.92 625.26 104.37 625.33 103.81 625.39 C103.25 625.45 102.70 625.50 102.14 625.54 C101.58 625.59 101.03 625.62 100.47 625.64 C99.91 625.67 99.36 625.69 98.80 625.70 C98.24 625.72 97.69 625.72 97.13 625.73 C96.57 625.73 96.02 625.73 95.46 625.73 C94.90 625.73 94.35 625.73 93.79 625.73 C93.23 625.72 92.68 625.72 92.12 625.71 C91.56 625.70 91.01 625.69 90.45 625.68 C89.89 625.67 89.34 625.65 88.78 625.63 C88.22 625.61 87.67 625.59 87.11 625.56 C86.55 625.53 86.00 625.50 85.44 625.47 C84.88 625.44 84.33 625.40 83.77 625.36 C83.21 625.31 82.66 625.27 82.10 625.21 C81.54 625.16 80.99 625.10 80.43 625.04 C79.87 624.98 79.32 624.91 78.76 624.84 C78.20 624.76 77.65 624.68 77.09 624.60 C76.53 624.51 75.98 624.41 75.42 624.31 C74.86 624.20 74.31 624.09 73.75 623.97 C73.19 623.84 72.64 623.71 72.08 623.56 C71.52 623.41 70.97 623.25 70.41 623.06 C69.85 622.88 69.30 622.68 68.74 622.43 C68.18 622.18 67.63 622.08 67.07 621.56 C66.51 621.04 65.40 620.06 65.40 619.30Z" fill="#6a6a6a" stroke="#2a2a2a" stroke-width="0.6"/><path d="M67.60 619.40 C67.60 618.71 68.64 617.79 69.16 617.31 C69.68 616.83 70.21 616.73 70.73 616.50 C71.25 616.27 71.77 616.09 72.29 615.92 C72.81 615.74 73.33 615.60 73.85 615.46 C74.37 615.32 74.90 615.20 75.42 615.08 C75.94 614.97 76.46 614.86 76.98 614.77 C77.50 614.67 78.02 614.58 78.54 614.50 C79.06 614.42 79.59 614.35 80.11 614.28 C80.63 614.21 81.15 614.15 81.67 614.09 C82.19 614.03 82.71 613.98 83.23 613.93 C83.75 613.88 84.28 613.84 84.80 613.80 C85.32 613.76 85.84 613.72 86.36 613.69 C86.88 613.66 87.40 613.63 87.92 613.61 C88.44 613.58 88.97 613.56 89.49 613.54 C90.01 613.53 90.53 613.51 91.05 613.50 C91.57 613.49 92.09 613.48 92.61 613.47 C93.13 613.46 93.66 613.46 94.18 613.45 C94.70 613.45 95.22 613.45 95.74 613.45 C96.26 613.45 96.78 613.45 97.30 613.45 C97.82 613.46 98.35 613.47 98.87 613.48 C99.39 613.49 99.91 613.51 100.43 613.53 C100.95 613.56 101.47 613.58 101.99 613.62 C102.51 613.66 103.04 613.71 103.56 613.76 C104.08 613.82 104.60 613.88 105.12 613.96 C105.64 614.04 106.16 614.13 106.68 614.23 C107.20 614.34 107.73 614.46 108.25 614.60 C108.77 614.74 109.29 614.89 109.81 615.08 C110.33 615.27 110.85 615.47 111.37 615.74 C111.89 616.02 112.42 616.11 112.94 616.72 C113.46 617.33 114.50 618.52 114.50 619.40 C114.50 620.28 113.46 621.42 112.94 622.01 C112.42 622.61 111.89 622.70 111.37 622.97 C110.85 623.24 110.33 623.43 109.81 623.62 C109.29 623.80 108.77 623.95 108.25 624.09 C107.73 624.23 107.20 624.34 106.68 624.44 C106.16 624.55 105.64 624.63 105.12 624.71 C104.60 624.79 104.08 624.85 103.56 624.90 C103.04 624.96 102.51 625.00 101.99 625.04 C101.47 625.08 100.95 625.11 100.43 625.13 C99.91 625.15 99.39 625.17 98.87 625.18 C98.35 625.19 97.82 625.20 97.30 625.21 C96.78 625.21 96.26 625.21 95.74 625.21 C95.22 625.21 94.70 625.21 94.18 625.21 C93.66 625.20 93.13 625.20 92.61 625.19 C92.09 625.18 91.57 625.17 91.05 625.16 C90.53 625.15 90.01 625.14 89.49 625.12 C88.97 625.10 88.44 625.08 87.92 625.06 C87.40 625.03 86.88 625.00 86.36 624.97 C85.84 624.94 85.32 624.91 84.80 624.87 C84.28 624.83 83.75 624.79 83.23 624.74 C82.71 624.69 82.19 624.64 81.67 624.59 C81.15 624.53 80.63 624.47 80.11 624.40 C79.59 624.33 79.06 624.26 78.54 624.18 C78.02 624.10 77.50 624.02 76.98 623.92 C76.46 623.83 75.94 623.73 75.42 623.62 C74.90 623.50 74.37 623.39 73.85 623.25 C73.33 623.11 72.81 622.97 72.29 622.80 C71.77 622.63 71.25 622.46 70.73 622.23 C70.21 622.00 69.68 621.91 69.16 621.44 C68.64 620.97 67.60 620.09 67.60 619.40Z" fill="#181818"/><path d="M91.28 619.50 C91.28 618.68 91.77 617.56 92.02 617.03 C92.26 616.49 92.51 616.47 92.76 616.27 C93.00 616.08 93.25 615.96 93.50 615.85 C93.74 615.74 93.99 615.66 94.24 615.59 C94.49 615.53 94.73 615.48 94.98 615.44 C95.23 615.40 95.47 615.37 95.72 615.35 C95.97 615.33 96.21 615.31 96.46 615.30 C96.71 615.29 96.95 615.28 97.20 615.27 C97.45 615.27 97.70 615.26 97.94 615.26 C98.19 615.26 98.44 615.25 98.68 615.25 C98.93 615.25 99.18 615.25 99.42 615.25 C99.67 615.25 99.92 615.25 100.17 615.25 C100.41 615.25 100.66 615.25 100.91 615.25 C101.15 615.25 101.40 615.25 101.65 615.25 C101.89 615.25 102.14 615.25 102.39 615.25 C102.63 615.25 102.88 615.25 103.13 615.25 C103.38 615.25 103.62 615.25 103.87 615.25 C104.12 615.25 104.36 615.25 104.61 615.25 C104.86 615.25 105.10 615.25 105.35 615.25 C105.60 615.25 105.84 615.25 106.09 615.25 C106.34 615.25 106.59 615.26 106.83 615.26 C107.08 615.26 107.33 615.27 107.57 615.27 C107.82 615.28 108.07 615.29 108.31 615.30 C108.56 615.31 108.81 615.33 109.06 615.35 C109.30 615.37 109.55 615.40 109.80 615.44 C110.04 615.48 110.29 615.53 110.54 615.59 C110.78 615.66 111.03 615.74 111.28 615.85 C111.52 615.96 111.77 616.08 112.02 616.27 C112.27 616.47 112.51 616.49 112.76 617.03 C113.01 617.56 113.50 618.68 113.50 619.50 C113.50 620.32 113.01 621.39 112.76 621.92 C112.51 622.44 112.27 622.46 112.02 622.65 C111.77 622.84 111.52 622.95 111.28 623.06 C111.03 623.18 110.78 623.25 110.54 623.31 C110.29 623.38 110.04 623.42 109.80 623.46 C109.55 623.50 109.30 623.53 109.06 623.55 C108.81 623.58 108.56 623.59 108.31 623.60 C108.07 623.61 107.82 623.62 107.57 623.63 C107.33 623.64 107.08 623.64 106.83 623.64 C106.59 623.64 106.34 623.65 106.09 623.65 C105.84 623.65 105.60 623.65 105.35 623.65 C105.10 623.65 104.86 623.65 104.61 623.65 C104.36 623.65 104.12 623.65 103.87 623.65 C103.62 623.65 103.38 623.65 103.13 623.65 C102.88 623.65 102.63 623.65 102.39 623.65 C102.14 623.65 101.89 623.65 101.65 623.65 C101.40 623.65 101.15 623.65 100.91 623.65 C100.66 623.65 100.41 623.65 100.17 623.65 C99.92 623.65 99.67 623.65 99.42 623.65 C99.18 623.65 98.93 623.65 98.68 623.65 C98.44 623.65 98.19 623.64 97.94 623.64 C97.70 623.64 97.45 623.64 97.20 623.63 C96.95 623.62 96.71 623.61 96.46 623.60 C96.21 623.59 95.97 623.58 95.72 623.55 C95.47 623.53 95.23 623.50 94.98 623.46 C94.73 623.42 94.49 623.38 94.24 623.31 C93.99 623.25 93.74 623.18 93.50 623.06 C93.25 622.95 93.00 622.84 92.76 622.65 C92.51 622.46 92.26 622.44 92.02 621.92 C91.77 621.39 91.28 620.32 91.28 619.50Z" fill="#000"/><path d="M96.9 621.3 h0.7" stroke="#fff" stroke-width="0.6" stroke-opacity="0.85"/><path d="M76.0 620.7 h1.6" stroke="#fff" stroke-width="0.6" stroke-opacity="0.85"/><path d="M90.0 618.0 h1.4" stroke="#fff" stroke-width="0.6" stroke-opacity="0.85"/><path d="M88.5 619.4 h0.8" stroke="#fff" stroke-width="0.6" stroke-opacity="0.85"/><path d="M84.3 618.4 h1.6" stroke="#fff" stroke-width="0.6" stroke-opacity="0.85"/><path d="M97.8 621.3 h1.4" stroke="#fff" stroke-width="0.6" stroke-opacity="0.85"/><path d="M84.6 617.8 h0.7" stroke="#fff" stroke-width="0.6" stroke-opacity="0.85"/><path d="M74.7 618.8 h1.0" stroke="#fff" stroke-width="0.6" stroke-opacity="0.85"/><path d="M83.1 621.0 h1.3" stroke="#fff" stroke-width="0.6" stroke-opacity="0.85"/><path d="M87.4 617.6 h0.6" stroke="#fff" stroke-width="0.6" stroke-opacity="0.85"/><path d="M81.8 617.1 h1.3" stroke="#fff" stroke-width="0.6" stroke-opacity="0.85"/><path d="M97.9 619.9 h0.9" stroke="#fff" stroke-width="0.6" stroke-opacity="0.85"/><path d="M95.4 620.5 h1.6" stroke="#fff" stroke-width="0.6" stroke-opacity="0.85"/><path d="M95.7 620.4 h1.7" stroke="#fff" stroke-width="0.6" stroke-opacity="0.85"/><path d="M82.5 621.5 h1.9" stroke="#fff" stroke-width="0.6" stroke-opacity="0.85"/><path d="M77.9 620.3 h1.6" stroke="#fff" stroke-width="0.6" stroke-opacity="0.85"/><path d="M85.0 619.2 h1.3" stroke="#fff" stroke-width="0.6" stroke-opacity="0.85"/><path d="M96.1 619.0 h1.8" stroke="#fff" stroke-width="0.6" stroke-opacity="0.85"/><path d="M82.5 621.0 h1.9" stroke="#fff" stroke-width="0.6" stroke-opacity="0.85"/><path d="M85.0 619.4 h1.9" stroke="#fff" stroke-width="0.6" stroke-opacity="0.85"/><path d="M91.3 618.9 h0.9" stroke="#fff" stroke-width="0.6" stroke-opacity="0.85"/><path d="M81.8 620.0 h0.8" stroke="#fff" stroke-width="0.6" stroke-opacity="0.85"/><path d="M95.7 617.8 h1.9" stroke="#fff" stroke-width="0.6" stroke-opacity="0.85"/><path d="M81.4 621.4 h1.6" stroke="#fff" stroke-width="0.6" stroke-opacity="0.85"/><path d="M86.1 619.1 h1.5" stroke="#fff" stroke-width="0.6" stroke-opacity="0.85"/><path d="M88.1 618.0 h0.9" stroke="#fff" stroke-width="0.6" stroke-opacity="0.85"/><path d="M86.2 621.3 h1.5" stroke="#fff" stroke-width="0.6" stroke-opacity="0.85"/><path d="M75.8 620.7 h1.6" stroke="#fff" stroke-width="0.6" stroke-opacity="0.85"/><path d="M95.7 617.4 h1.6" stroke="#fff" stroke-width="0.6" stroke-opacity="0.85"/><path d="M75.4 619.8 h1.0" stroke="#fff" stroke-width="0.6" stroke-opacity="0.85"/><path d="M79.4 621.0 h0.7" stroke="#fff" stroke-width="0.6" stroke-opacity="0.85"/><path d="M86.5 620.8 h0.9" stroke="#fff" stroke-width="0.6" stroke-opacity="0.85"/><path d="M79.0 621.0 h1.2" stroke="#fff" stroke-width="0.6" stroke-opacity="0.85"/><path d="M91.2 616.6 h1.1" stroke="#fff" stroke-width="0.6" stroke-opacity="0.85"/><path d="M83.6 620.1 h1.5" stroke="#aaa" stroke-width="0.6" stroke-opacity="0.9"/><path d="M76.9 615.5 h1.1" stroke="#aaa" stroke-width="0.6" stroke-opacity="0.9"/><path d="M79.6 621.2 h1.6" stroke="#aaa" stroke-width="0.6" stroke-opacity="0.9"/><path d="M86.2 619.4 h1.5" stroke="#aaa" stroke-width="0.6" stroke-opacity="0.9"/><path d="M76.9 618.6 h0.8" stroke="#aaa" stroke-width="0.6" stroke-opacity="0.9"/><path d="M92.4 615.8 h1.7" stroke="#aaa" stroke-width="0.6" stroke-opacity="0.9"/><path d="M75.5 620.3 h1.1" stroke="#aaa" stroke-width="0.6" stroke-opacity="0.9"/><path d="M82.2 621.5 h0.6" stroke="#aaa" stroke-width="0.6" stroke-opacity="0.9"/><path d="M75.2 622.0 h1.3" stroke="#aaa" stroke-width="0.6" stroke-opacity="0.9"/><path d="M75.8 622.5 h1.9" stroke="#aaa" stroke-width="0.6" stroke-opacity="0.9"/><path d="M76.3 618.4 h0.8" stroke="#aaa" stroke-width="0.6" stroke-opacity="0.9"/><path d="M80.3 619.9 h0.8" stroke="#aaa" stroke-width="0.6" stroke-opacity="0.9"/><path d="M88.1 615.8 h0.8" stroke="#aaa" stroke-width="0.6" stroke-opacity="0.9"/><path d="M90.6 618.3 h1.2" stroke="#aaa" stroke-width="0.6" stroke-opacity="0.9"/><path d="M86.1 618.8 h1.1" stroke="#aaa" stroke-width="0.6" stroke-opacity="0.9"/><path d="M74.6 620.6 h2.0" stroke="#aaa" stroke-width="0.6" stroke-opacity="0.9"/><path d="M72.81 618.23 L73.59 617.69 L74.38 616.69 L75.16 616.42 L75.94 616.72 L76.72 616.47 L77.51 616.28 L78.29 615.90 L79.07 616.01 L79.86 615.93 L80.64 615.84 L81.42 615.50 L82.21 615.64 L82.99 615.59 L83.77 615.79 L84.56 615.96 L85.34 615.92 L86.12 615.62 L86.90 615.55 L87.69 615.42 L88.47 615.25 L89.25 615.25 L90.04 615.55 L90.82 615.45 L91.60 615.49 L92.38 615.85 L93.17 615.59 L93.95 615.62 L94.73 615.39 L95.52 615.24 L96.30 615.46" fill="none" stroke="#bbb" stroke-width="0.45" stroke-opacity="0.55"/><path d="M72.81 618.25 L73.59 618.19 L74.38 618.31 L75.16 617.91 L75.94 617.43 L76.72 617.82 L77.51 617.66 L78.29 617.54 L79.07 617.61 L79.86 617.46 L80.64 617.44 L81.42 617.10 L82.21 617.51 L82.99 617.48 L83.77 616.90 L84.56 617.31 L85.34 617.27 L86.12 617.09 L86.90 617.13 L87.69 617.10 L88.47 617.40 L89.25 617.11 L90.04 617.34 L90.82 617.00 L91.60 617.37 L92.38 617.38 L93.17 617.08 L93.95 617.15 L94.73 617.40 L95.52 617.26 L96.30 617.10" fill="none" stroke="#bbb" stroke-width="0.45" stroke-opacity="0.55"/><path d="M72.81 618.91 L73.59 618.87 L74.38 619.06 L75.16 618.63 L75.94 619.10 L76.72 618.62 L77.51 619.04 L78.29 618.59 L79.07 619.03 L79.86 618.84 L80.64 618.68 L81.42 618.68 L82.21 618.76 L82.99 618.71 L83.77 618.52 L84.56 618.44 L85.34 618.65 L86.12 618.94 L86.90 618.72 L87.69 618.34 L88.47 618.86 L89.25 618.79 L90.04 618.92 L90.82 618.42 L91.60 618.81 L92.38 618.33 L93.17 618.74 L93.95 618.48 L94.73 618.44 L95.52 618.90 L96.30 618.36" fill="none" stroke="#bbb" stroke-width="0.45" stroke-opacity="0.55"/><path d="M72.81 619.80 L73.59 620.17 L74.38 619.85 L75.16 619.90 L75.94 620.42 L76.72 620.15 L77.51 620.40 L78.29 619.95 L79.07 620.21 L79.86 620.09 L80.64 620.46 L81.42 620.06 L82.21 620.68 L82.99 620.04 L83.77 620.54 L84.56 620.05 L85.34 620.22 L86.12 620.61 L86.90 620.15 L87.69 620.17 L88.47 620.53 L89.25 620.32 L90.04 620.08 L90.82 620.74 L91.60 620.15 L92.38 620.07 L93.17 620.29 L93.95 620.48 L94.73 620.57 L95.52 620.12 L96.30 620.28" fill="none" stroke="#bbb" stroke-width="0.45" stroke-opacity="0.55"/><path d="M72.81 620.04 L73.59 620.68 L74.38 621.15 L75.16 621.32 L75.94 621.58 L76.72 621.59 L77.51 621.77 L78.29 621.73 L79.07 621.64 L79.86 621.52 L80.64 621.86 L81.42 621.66 L82.21 621.53 L82.99 621.80 L83.77 622.11 L84.56 621.60 L85.34 621.93 L86.12 621.80 L86.90 621.89 L87.69 621.64 L88.47 622.21 L89.25 621.72 L90.04 621.96 L90.82 621.83 L91.60 621.55 L92.38 621.93 L93.17 621.64 L93.95 621.58 L94.73 621.56 L95.52 621.65 L96.30 621.61" fill="none" stroke="#bbb" stroke-width="0.45" stroke-opacity="0.55"/><path d="M72.81 621.04 L73.59 621.51 L74.38 622.24 L75.16 622.50 L75.94 622.78 L76.72 622.44 L77.51 622.74 L78.29 622.73 L79.07 623.07 L79.86 623.18 L80.64 623.37 L81.42 623.36 L82.21 623.09 L82.99 623.24 L83.77 623.34 L84.56 623.00 L85.34 623.03 L86.12 623.30 L86.90 623.10 L87.69 623.54 L88.47 623.20 L89.25 623.10 L90.04 623.16 L90.82 623.20 L91.60 623.19 L92.38 623.40 L93.17 623.36 L93.95 623.25 L94.73 623.48 L95.52 623.18 L96.30 623.67" fill="none" stroke="#bbb" stroke-width="0.45" stroke-opacity="0.55"/></g>
<g clip-path="url(#c10)"><path d="M143.20 525.70 C143.70 522.58 145.28 525.92 146.20 526.50 C147.12 527.08 147.78 528.53 148.70 529.20 C149.62 529.87 150.62 530.58 151.70 530.50 C152.78 530.42 152.78 529.10 155.20 528.70 C157.62 528.30 162.70 528.20 166.20 528.10 C169.70 528.00 172.87 528.07 176.20 528.10 C179.53 528.13 183.53 528.37 186.20 528.30 C188.87 528.23 190.20 528.22 192.20 527.70 C194.20 527.18 196.20 525.87 198.20 525.20 C200.20 524.53 202.20 523.98 204.20 523.70 C206.20 523.42 208.20 523.47 210.20 523.50 C212.20 523.53 213.92 523.70 216.20 523.90 C218.48 524.10 222.62 521.48 223.90 524.70 C225.18 527.92 225.18 540.07 223.90 543.20 C222.62 546.33 218.48 543.42 216.20 543.50 C213.92 543.58 212.20 543.67 210.20 543.70 C208.20 543.73 206.20 543.77 204.20 543.70 C202.20 543.63 200.20 543.50 198.20 543.30 C196.20 543.10 194.20 542.60 192.20 542.50 C190.20 542.40 188.87 542.60 186.20 542.70 C183.53 542.80 179.53 543.03 176.20 543.10 C172.87 543.17 169.70 543.17 166.20 543.10 C162.70 543.03 157.62 543.07 155.20 542.70 C152.78 542.33 152.78 541.03 151.70 540.90 C150.62 540.77 149.62 541.30 148.70 541.90 C147.78 542.50 147.12 543.95 146.20 544.50 C145.28 545.05 143.70 548.33 143.20 545.20 C142.70 542.07 142.70 528.82 143.20 525.70Z" fill="#fff" stroke="#3c3c3c" stroke-width="0.6"/><path d="M143.20 526.68 C143.70 523.87 145.28 526.87 146.20 527.40 C147.12 527.93 147.78 529.23 148.70 529.84 C149.62 530.44 150.62 531.09 151.70 531.02 C152.78 530.95 152.78 529.76 155.20 529.40 C157.62 529.04 162.70 528.94 166.20 528.85 C169.70 528.76 172.87 528.82 176.20 528.85 C179.53 528.88 183.53 529.09 186.20 529.02 C188.87 528.95 190.20 528.93 192.20 528.44 C194.20 527.95 196.20 526.73 198.20 526.11 C200.20 525.48 202.20 524.97 204.20 524.70 C206.20 524.43 208.20 524.48 210.20 524.51 C212.20 524.54 213.92 524.69 216.20 524.88 C218.48 525.07 222.62 522.73 223.90 525.62 C225.18 528.52 225.18 539.46 223.90 542.28 C222.62 545.09 218.48 542.45 216.20 542.52 C213.92 542.59 212.20 542.66 210.20 542.69 C208.20 542.72 206.20 542.75 204.20 542.70 C202.20 542.65 200.20 542.55 198.20 542.40 C196.20 542.24 194.20 541.83 192.20 541.76 C190.20 541.69 188.87 541.88 186.20 541.98 C183.53 542.08 179.53 542.29 176.20 542.35 C172.87 542.41 169.70 542.41 166.20 542.35 C162.70 542.29 157.62 542.33 155.20 542.00 C152.78 541.67 152.78 540.50 151.70 540.38 C150.62 540.26 149.62 540.73 148.70 541.27 C147.78 541.80 147.12 543.11 146.20 543.60 C145.28 544.09 143.70 547.05 143.20 544.23 C142.70 541.40 142.70 529.48 143.20 526.68Z" fill="none" stroke="#3c3c3c" stroke-width="0.6"/><ellipse cx="147.40" cy="535.70" rx="3.40" ry="3.60" fill="#000"/><ellipse cx="147.40" cy="535.70" rx="4.60" ry="5.00" fill="none" stroke="#3a3a3a" stroke-width="0.6"/><path d="M187.40 535.70 C187.40 536.61 187.37 537.79 187.30 538.43 C187.23 539.07 187.14 539.22 187.00 539.54 C186.87 539.86 186.70 540.11 186.50 540.35 C186.30 540.59 186.06 540.80 185.79 540.99 C185.51 541.18 185.20 541.35 184.85 541.50 C184.49 541.65 184.10 541.79 183.66 541.91 C183.21 542.02 182.73 542.13 182.16 542.21 C181.60 542.30 181.02 542.37 180.27 542.43 C179.53 542.49 179.19 542.53 177.70 542.56 C176.21 542.59 173.47 542.60 171.35 542.60 C169.23 542.60 166.49 542.59 165.00 542.56 C163.51 542.53 163.17 542.49 162.43 542.43 C161.68 542.37 161.10 542.30 160.54 542.21 C159.97 542.13 159.49 542.02 159.04 541.91 C158.60 541.79 158.21 541.65 157.85 541.50 C157.50 541.35 157.19 541.18 156.91 540.99 C156.64 540.80 156.40 540.59 156.20 540.35 C156.00 540.11 155.83 539.86 155.70 539.54 C155.56 539.22 155.47 539.07 155.40 538.43 C155.33 537.79 155.30 536.61 155.30 535.70 C155.30 534.79 155.33 533.61 155.40 532.97 C155.47 532.33 155.56 532.18 155.70 531.86 C155.83 531.54 156.00 531.29 156.20 531.05 C156.40 530.81 156.64 530.60 156.91 530.41 C157.19 530.22 157.50 530.05 157.85 529.90 C158.21 529.75 158.60 529.61 159.04 529.49 C159.49 529.38 159.97 529.27 160.54 529.19 C161.10 529.10 161.68 529.03 162.43 528.97 C163.17 528.91 163.51 528.87 165.00 528.84 C166.49 528.81 169.23 528.80 171.35 528.80 C173.47 528.80 176.21 528.81 177.70 528.84 C179.19 528.87 179.53 528.91 180.27 528.97 C181.02 529.03 181.60 529.10 182.16 529.19 C182.73 529.27 183.21 529.38 183.66 529.49 C184.10 529.61 184.49 529.75 184.85 529.90 C185.20 530.05 185.51 530.22 185.79 530.41 C186.06 530.60 186.30 530.81 186.50 531.05 C186.70 531.29 186.87 531.54 187.00 531.86 C187.14 532.18 187.23 532.33 187.30 532.97 C187.37 533.61 187.40 534.79 187.40 535.70Z" fill="#d8d8d8" stroke="#3a3a3a" stroke-width="0.6"/><path d="M186.80 535.70 C186.80 536.50 186.77 537.55 186.71 538.11 C186.65 538.68 186.56 538.81 186.44 539.09 C186.32 539.37 186.17 539.60 185.98 539.81 C185.80 540.02 185.59 540.21 185.34 540.38 C185.09 540.55 184.81 540.69 184.49 540.83 C184.16 540.96 183.81 541.08 183.41 541.19 C183.00 541.29 182.56 541.38 182.05 541.46 C181.54 541.54 181.01 541.60 180.34 541.65 C179.66 541.70 179.35 541.74 178.00 541.76 C176.66 541.79 174.17 541.80 172.25 541.80 C170.33 541.80 167.84 541.79 166.50 541.76 C165.15 541.74 164.84 541.70 164.16 541.65 C163.49 541.60 162.96 541.54 162.45 541.46 C161.94 541.38 161.50 541.29 161.09 541.19 C160.69 541.08 160.34 540.96 160.01 540.83 C159.69 540.69 159.41 540.55 159.16 540.38 C158.91 540.21 158.70 540.02 158.52 539.81 C158.33 539.60 158.18 539.37 158.06 539.09 C157.94 538.81 157.85 538.68 157.79 538.11 C157.73 537.55 157.70 536.50 157.70 535.70 C157.70 534.90 157.73 533.85 157.79 533.29 C157.85 532.72 157.94 532.59 158.06 532.31 C158.18 532.03 158.33 531.80 158.52 531.59 C158.70 531.38 158.91 531.19 159.16 531.02 C159.41 530.85 159.69 530.71 160.01 530.57 C160.34 530.44 160.69 530.32 161.09 530.21 C161.50 530.11 161.94 530.02 162.45 529.94 C162.96 529.86 163.49 529.80 164.16 529.75 C164.84 529.70 165.15 529.66 166.50 529.64 C167.84 529.61 170.33 529.60 172.25 529.60 C174.17 529.60 176.66 529.61 178.00 529.64 C179.35 529.66 179.66 529.70 180.34 529.75 C181.01 529.80 181.54 529.86 182.05 529.94 C182.56 530.02 183.00 530.11 183.41 530.21 C183.81 530.32 184.16 530.44 184.49 530.57 C184.81 530.71 185.09 530.85 185.34 531.02 C185.59 531.19 185.80 531.38 185.98 531.59 C186.17 531.80 186.32 532.03 186.44 532.31 C186.56 532.59 186.65 532.72 186.71 533.29 C186.77 533.85 186.80 534.90 186.80 535.70Z" fill="#6a6a6a" stroke="#3a3a3a" stroke-width="0.6"/><path d="M185.80 535.70 C185.80 536.37 185.78 537.24 185.73 537.72 C185.68 538.19 185.60 538.30 185.50 538.54 C185.40 538.77 185.27 538.96 185.12 539.14 C184.97 539.32 184.79 539.47 184.58 539.61 C184.38 539.75 184.14 539.88 183.87 539.99 C183.61 540.10 183.31 540.20 182.98 540.29 C182.64 540.37 182.28 540.45 181.85 540.51 C181.43 540.58 180.99 540.63 180.43 540.67 C179.87 540.72 179.61 540.75 178.49 540.77 C177.36 540.79 175.30 540.80 173.70 540.80 C172.10 540.80 170.04 540.79 168.91 540.77 C167.79 540.75 167.53 540.72 166.97 540.67 C166.41 540.63 165.97 540.58 165.55 540.51 C165.12 540.45 164.76 540.37 164.42 540.29 C164.09 540.20 163.79 540.10 163.53 539.99 C163.26 539.88 163.02 539.75 162.82 539.61 C162.61 539.47 162.43 539.32 162.28 539.14 C162.13 538.96 162.00 538.77 161.90 538.54 C161.80 538.30 161.72 538.19 161.67 537.72 C161.62 537.24 161.60 536.37 161.60 535.70 C161.60 535.03 161.62 534.16 161.67 533.68 C161.72 533.21 161.80 533.10 161.90 532.86 C162.00 532.63 162.13 532.44 162.28 532.26 C162.43 532.08 162.61 531.93 162.82 531.79 C163.02 531.65 163.26 531.52 163.53 531.41 C163.79 531.30 164.09 531.20 164.42 531.11 C164.76 531.03 165.12 530.95 165.55 530.89 C165.97 530.82 166.41 530.77 166.97 530.73 C167.53 530.68 167.79 530.65 168.91 530.63 C170.04 530.61 172.10 530.60 173.70 530.60 C175.30 530.60 177.36 530.61 178.49 530.63 C179.61 530.65 179.87 530.68 180.43 530.73 C180.99 530.77 181.43 530.82 181.85 530.89 C182.28 530.95 182.64 531.03 182.98 531.11 C183.31 531.20 183.61 531.30 183.87 531.41 C184.14 531.52 184.38 531.65 184.58 531.79 C184.79 531.93 184.97 532.08 185.12 532.26 C185.27 532.44 185.40 532.63 185.50 532.86 C185.60 533.10 185.68 533.21 185.73 533.68 C185.78 534.16 185.80 535.03 185.80 535.70Z" fill="#000"/><path d="M169.2 535.8 h1.1" stroke="#fff" stroke-width="0.6" stroke-opacity="0.7"/><path d="M175.5 536.0 h0.7" stroke="#fff" stroke-width="0.6" stroke-opacity="0.7"/><path d="M165.4 536.4 h1.0" stroke="#fff" stroke-width="0.6" stroke-opacity="0.7"/><path d="M169.2 536.7 h1.3" stroke="#fff" stroke-width="0.6" stroke-opacity="0.7"/><path d="M179.4 535.7 h1.5" stroke="#fff" stroke-width="0.6" stroke-opacity="0.7"/><path d="M167.8 536.0 h1.8" stroke="#fff" stroke-width="0.6" stroke-opacity="0.7"/><path d="M174.1 536.2 h1.5" stroke="#fff" stroke-width="0.6" stroke-opacity="0.7"/><path d="M166.3 536.2 h1.4" stroke="#fff" stroke-width="0.6" stroke-opacity="0.7"/><path d="M170.3 534.8 h1.8" stroke="#fff" stroke-width="0.6" stroke-opacity="0.7"/><path d="M173.2 536.1 h1.8" stroke="#fff" stroke-width="0.6" stroke-opacity="0.7"/><ellipse cx="192.20" cy="535.70" rx="4.80" ry="5.40" fill="#ccc" stroke="#3a3a3a" stroke-width="0.6"/><ellipse cx="192.20" cy="535.70" rx="3.20" ry="3.80" fill="#999" stroke="#3a3a3a" stroke-width="0.6"/><ellipse cx="192.20" cy="535.70" rx="1.60" ry="2.20" fill="#555" stroke="#3a3a3a" stroke-width="0.6"/><path d="M222.20 533.70 C222.20 534.79 222.17 535.88 222.12 536.55 C222.07 537.21 221.98 537.37 221.88 537.70 C221.77 538.04 221.63 538.30 221.47 538.55 C221.30 538.80 221.11 539.02 220.88 539.22 C220.66 539.42 220.41 539.60 220.12 539.75 C219.83 539.91 219.51 540.05 219.14 540.18 C218.78 540.30 218.39 540.41 217.93 540.50 C217.47 540.59 216.99 540.66 216.38 540.72 C215.77 540.78 215.49 540.83 214.28 540.86 C213.07 540.89 210.83 540.90 209.10 540.90 C207.37 540.90 205.13 540.89 203.92 540.86 C202.71 540.83 202.43 540.78 201.82 540.72 C201.21 540.66 200.73 540.59 200.27 540.50 C199.81 540.41 199.42 540.30 199.06 540.18 C198.69 540.05 198.37 539.91 198.08 539.75 C197.79 539.60 197.54 539.42 197.32 539.22 C197.09 539.02 196.90 538.80 196.73 538.55 C196.57 538.30 196.43 538.04 196.32 537.70 C196.22 537.37 196.13 537.21 196.08 536.55 C196.03 535.88 196.00 534.79 196.00 533.70 C196.00 532.61 196.03 530.85 196.08 529.98 C196.13 529.11 196.22 528.91 196.32 528.47 C196.43 528.04 196.57 527.70 196.73 527.37 C196.90 527.04 197.09 526.76 197.32 526.49 C197.54 526.23 197.79 526.00 198.08 525.80 C198.37 525.59 198.69 525.41 199.06 525.25 C199.42 525.08 199.81 524.95 200.27 524.83 C200.73 524.71 201.21 524.61 201.82 524.53 C202.43 524.45 202.71 524.40 203.92 524.36 C205.13 524.32 207.37 524.30 209.10 524.30 C210.83 524.30 213.07 524.32 214.28 524.36 C215.49 524.40 215.77 524.45 216.38 524.53 C216.99 524.61 217.47 524.71 217.93 524.83 C218.39 524.95 218.78 525.08 219.14 525.25 C219.51 525.41 219.83 525.59 220.12 525.80 C220.41 526.00 220.66 526.23 220.88 526.49 C221.11 526.76 221.30 527.04 221.47 527.37 C221.63 527.70 221.77 528.04 221.88 528.47 C221.98 528.91 222.07 529.11 222.12 529.98 C222.17 530.85 222.20 532.61 222.20 533.70Z" fill="#d8d8d8" stroke="#3a3a3a" stroke-width="0.6"/><path d="M219.70 533.70 C219.70 534.66 219.68 535.70 219.63 536.31 C219.58 536.92 219.51 537.06 219.42 537.37 C219.33 537.67 219.21 537.92 219.07 538.15 C218.93 538.38 218.76 538.58 218.57 538.76 C218.38 538.94 218.16 539.10 217.91 539.25 C217.66 539.40 217.39 539.52 217.08 539.64 C216.76 539.75 216.43 539.85 216.03 539.93 C215.63 540.01 215.23 540.08 214.70 540.14 C214.18 540.19 213.94 540.23 212.90 540.26 C211.86 540.29 209.93 540.30 208.45 540.30 C206.97 540.30 205.04 540.29 204.00 540.26 C202.96 540.23 202.72 540.19 202.20 540.14 C201.67 540.08 201.27 540.01 200.87 539.93 C200.47 539.85 200.14 539.75 199.82 539.64 C199.51 539.52 199.24 539.40 198.99 539.25 C198.74 539.10 198.52 538.94 198.33 538.76 C198.14 538.58 197.97 538.38 197.83 538.15 C197.69 537.92 197.57 537.67 197.48 537.37 C197.39 537.06 197.32 536.92 197.27 536.31 C197.22 535.70 197.20 534.66 197.20 533.70 C197.20 532.74 197.22 531.28 197.27 530.54 C197.32 529.79 197.39 529.62 197.48 529.25 C197.57 528.88 197.69 528.59 197.83 528.31 C197.97 528.03 198.14 527.79 198.33 527.57 C198.52 527.34 198.74 527.15 198.99 526.97 C199.24 526.80 199.51 526.64 199.82 526.50 C200.14 526.37 200.47 526.25 200.87 526.15 C201.27 526.05 201.67 525.96 202.20 525.90 C202.72 525.83 202.96 525.78 204.00 525.75 C205.04 525.72 206.97 525.70 208.45 525.70 C209.93 525.70 211.86 525.72 212.90 525.75 C213.94 525.78 214.18 525.83 214.70 525.90 C215.23 525.96 215.63 526.05 216.03 526.15 C216.43 526.25 216.76 526.37 217.08 526.50 C217.39 526.64 217.66 526.80 217.91 526.97 C218.16 527.15 218.38 527.34 218.57 527.57 C218.76 527.79 218.93 528.03 219.07 528.31 C219.21 528.59 219.33 528.88 219.42 529.25 C219.51 529.62 219.58 529.79 219.63 530.54 C219.68 531.28 219.70 532.74 219.70 533.70Z" fill="#777" stroke="#3a3a3a" stroke-width="0.6"/><path d="M215.80 533.70 C215.80 534.48 215.78 535.49 215.75 536.03 C215.71 536.58 215.66 536.71 215.59 536.98 C215.52 537.25 215.43 537.47 215.32 537.68 C215.21 537.88 215.08 538.06 214.94 538.22 C214.79 538.39 214.62 538.53 214.43 538.66 C214.24 538.79 214.03 538.91 213.79 539.01 C213.55 539.11 213.30 539.19 212.99 539.27 C212.69 539.34 212.38 539.40 211.98 539.45 C211.58 539.50 211.40 539.54 210.60 539.56 C209.80 539.59 208.33 539.60 207.20 539.60 C206.07 539.60 204.60 539.59 203.80 539.56 C203.00 539.54 202.82 539.50 202.42 539.45 C202.02 539.40 201.71 539.34 201.41 539.27 C201.10 539.19 200.85 539.11 200.61 539.01 C200.37 538.91 200.16 538.79 199.97 538.66 C199.78 538.53 199.61 538.39 199.46 538.22 C199.32 538.06 199.19 537.88 199.08 537.68 C198.97 537.47 198.88 537.25 198.81 536.98 C198.74 536.71 198.69 536.58 198.65 536.03 C198.62 535.49 198.60 534.48 198.60 533.70 C198.60 532.92 198.62 531.91 198.65 531.37 C198.69 530.82 198.74 530.69 198.81 530.42 C198.88 530.15 198.97 529.93 199.08 529.72 C199.19 529.52 199.32 529.34 199.46 529.18 C199.61 529.01 199.78 528.87 199.97 528.74 C200.16 528.61 200.37 528.49 200.61 528.39 C200.85 528.29 201.10 528.21 201.41 528.13 C201.71 528.06 202.02 528.00 202.42 527.95 C202.82 527.90 203.00 527.86 203.80 527.84 C204.60 527.81 206.07 527.80 207.20 527.80 C208.33 527.80 209.80 527.81 210.60 527.84 C211.40 527.86 211.58 527.90 211.98 527.95 C212.38 528.00 212.69 528.06 212.99 528.13 C213.30 528.21 213.55 528.29 213.79 528.39 C214.03 528.49 214.24 528.61 214.43 528.74 C214.62 528.87 214.79 529.01 214.94 529.18 C215.08 529.34 215.21 529.52 215.32 529.72 C215.43 529.93 215.52 530.15 215.59 530.42 C215.66 530.69 215.71 530.82 215.75 531.37 C215.78 531.91 215.80 532.92 215.80 533.70Z" fill="#000"/><path d="M204.6 533.1 h1.2" stroke="#fff" stroke-width="0.6" stroke-opacity="0.75"/><path d="M203.7 533.0 h1.2" stroke="#fff" stroke-width="0.6" stroke-opacity="0.75"/><path d="M211.4 534.2 h1.7" stroke="#fff" stroke-width="0.6" stroke-opacity="0.75"/><path d="M204.4 533.8 h1.0" stroke="#fff" stroke-width="0.6" stroke-opacity="0.75"/><path d="M203.9 533.1 h0.9" stroke="#fff" stroke-width="0.6" stroke-opacity="0.75"/><path d="M211.5 534.2 h1.7" stroke="#fff" stroke-width="0.6" stroke-opacity="0.75"/></g>
<g clip-path="url(#c11)"><path d="M143.50 610.80 C144.00 607.68 145.58 611.02 146.50 611.60 C147.42 612.18 148.08 613.63 149.00 614.30 C149.92 614.97 150.92 615.68 152.00 615.60 C153.08 615.52 153.08 614.20 155.50 613.80 C157.92 613.40 163.00 613.30 166.50 613.20 C170.00 613.10 173.17 613.17 176.50 613.20 C179.83 613.23 183.83 613.47 186.50 613.40 C189.17 613.33 190.50 613.32 192.50 612.80 C194.50 612.28 196.50 610.97 198.50 610.30 C200.50 609.63 202.50 609.08 204.50 608.80 C206.50 608.52 208.50 608.57 210.50 608.60 C212.50 608.63 213.97 608.80 216.50 609.00 C219.03 609.20 224.17 606.58 225.70 609.80 C227.23 613.02 227.23 625.17 225.70 628.30 C224.17 631.43 219.03 628.52 216.50 628.60 C213.97 628.68 212.50 628.77 210.50 628.80 C208.50 628.83 206.50 628.87 204.50 628.80 C202.50 628.73 200.50 628.60 198.50 628.40 C196.50 628.20 194.50 627.70 192.50 627.60 C190.50 627.50 189.17 627.70 186.50 627.80 C183.83 627.90 179.83 628.13 176.50 628.20 C173.17 628.27 170.00 628.27 166.50 628.20 C163.00 628.13 157.92 628.17 155.50 627.80 C153.08 627.43 153.08 626.13 152.00 626.00 C150.92 625.87 149.92 626.40 149.00 627.00 C148.08 627.60 147.42 629.05 146.50 629.60 C145.58 630.15 144.00 633.43 143.50 630.30 C143.00 627.17 143.00 613.92 143.50 610.80Z" fill="#fff" stroke="#3c3c3c" stroke-width="0.6"/><path d="M143.50 611.77 C144.00 608.97 145.58 611.97 146.50 612.50 C147.42 613.03 148.08 614.33 149.00 614.93 C149.92 615.54 150.92 616.19 152.00 616.12 C153.08 616.05 153.08 614.86 155.50 614.50 C157.92 614.14 163.00 614.04 166.50 613.95 C170.00 613.86 173.17 613.92 176.50 613.95 C179.83 613.98 183.83 614.19 186.50 614.12 C189.17 614.05 190.50 614.03 192.50 613.54 C194.50 613.05 196.50 611.83 198.50 611.20 C200.50 610.58 202.50 610.07 204.50 609.80 C206.50 609.53 208.50 609.58 210.50 609.61 C212.50 609.64 213.97 609.79 216.50 609.98 C219.03 610.17 224.17 607.83 225.70 610.72 C227.23 613.62 227.23 624.56 225.70 627.38 C224.17 630.19 219.03 627.55 216.50 627.62 C213.97 627.69 212.50 627.76 210.50 627.79 C208.50 627.82 206.50 627.85 204.50 627.80 C202.50 627.75 200.50 627.65 198.50 627.50 C196.50 627.34 194.50 626.93 192.50 626.86 C190.50 626.79 189.17 626.98 186.50 627.08 C183.83 627.18 179.83 627.39 176.50 627.45 C173.17 627.51 170.00 627.51 166.50 627.45 C163.00 627.39 157.92 627.43 155.50 627.10 C153.08 626.77 153.08 625.60 152.00 625.48 C150.92 625.36 149.92 625.83 149.00 626.37 C148.08 626.90 147.42 628.21 146.50 628.70 C145.58 629.19 144.00 632.15 143.50 629.32 C143.00 626.50 143.00 614.58 143.50 611.77Z" fill="none" stroke="#3c3c3c" stroke-width="0.6"/><ellipse cx="147.70" cy="620.80" rx="3.40" ry="3.60" fill="#000"/><ellipse cx="147.70" cy="620.80" rx="4.60" ry="5.00" fill="none" stroke="#3a3a3a" stroke-width="0.6"/><path d="M187.70 620.80 C187.70 621.71 187.67 622.89 187.60 623.53 C187.53 624.17 187.44 624.32 187.30 624.64 C187.17 624.96 187.00 625.21 186.80 625.45 C186.60 625.69 186.36 625.90 186.09 626.09 C185.81 626.28 185.50 626.45 185.15 626.60 C184.79 626.75 184.40 626.89 183.96 627.01 C183.51 627.12 183.03 627.23 182.46 627.31 C181.90 627.40 181.32 627.47 180.57 627.53 C179.83 627.59 179.49 627.63 178.00 627.66 C176.51 627.69 173.77 627.70 171.65 627.70 C169.53 627.70 166.79 627.69 165.30 627.66 C163.81 627.63 163.47 627.59 162.73 627.53 C161.98 627.47 161.40 627.40 160.84 627.31 C160.27 627.23 159.79 627.12 159.34 627.01 C158.90 626.89 158.51 626.75 158.15 626.60 C157.80 626.45 157.49 626.28 157.21 626.09 C156.94 625.90 156.70 625.69 156.50 625.45 C156.30 625.21 156.13 624.96 156.00 624.64 C155.86 624.32 155.77 624.17 155.70 623.53 C155.63 622.89 155.60 621.71 155.60 620.80 C155.60 619.89 155.63 618.71 155.70 618.07 C155.77 617.43 155.86 617.28 156.00 616.96 C156.13 616.64 156.30 616.39 156.50 616.15 C156.70 615.91 156.94 615.70 157.21 615.51 C157.49 615.32 157.80 615.15 158.15 615.00 C158.51 614.85 158.90 614.71 159.34 614.59 C159.79 614.48 160.27 614.37 160.84 614.29 C161.40 614.20 161.98 614.13 162.73 614.07 C163.47 614.01 163.81 613.97 165.30 613.94 C166.79 613.91 169.53 613.90 171.65 613.90 C173.77 613.90 176.51 613.91 178.00 613.94 C179.49 613.97 179.83 614.01 180.57 614.07 C181.32 614.13 181.90 614.20 182.46 614.29 C183.03 614.37 183.51 614.48 183.96 614.59 C184.40 614.71 184.79 614.85 185.15 615.00 C185.50 615.15 185.81 615.32 186.09 615.51 C186.36 615.70 186.60 615.91 186.80 616.15 C187.00 616.39 187.17 616.64 187.30 616.96 C187.44 617.28 187.53 617.43 187.60 618.07 C187.67 618.71 187.70 619.89 187.70 620.80Z" fill="#d8d8d8" stroke="#3a3a3a" stroke-width="0.6"/><path d="M187.10 620.80 C187.10 621.60 187.07 622.65 187.01 623.21 C186.95 623.78 186.86 623.91 186.74 624.19 C186.62 624.47 186.47 624.70 186.28 624.91 C186.10 625.12 185.89 625.31 185.64 625.48 C185.39 625.65 185.11 625.79 184.79 625.93 C184.46 626.06 184.11 626.18 183.71 626.29 C183.30 626.39 182.86 626.48 182.35 626.56 C181.84 626.64 181.31 626.70 180.64 626.75 C179.96 626.80 179.65 626.84 178.30 626.86 C176.96 626.89 174.47 626.90 172.55 626.90 C170.63 626.90 168.14 626.89 166.80 626.86 C165.45 626.84 165.14 626.80 164.46 626.75 C163.79 626.70 163.26 626.64 162.75 626.56 C162.24 626.48 161.80 626.39 161.39 626.29 C160.99 626.18 160.64 626.06 160.31 625.93 C159.99 625.79 159.71 625.65 159.46 625.48 C159.21 625.31 159.00 625.12 158.82 624.91 C158.63 624.70 158.48 624.47 158.36 624.19 C158.24 623.91 158.15 623.78 158.09 623.21 C158.03 622.65 158.00 621.60 158.00 620.80 C158.00 620.00 158.03 618.95 158.09 618.39 C158.15 617.82 158.24 617.69 158.36 617.41 C158.48 617.13 158.63 616.90 158.82 616.69 C159.00 616.48 159.21 616.29 159.46 616.12 C159.71 615.95 159.99 615.81 160.31 615.67 C160.64 615.54 160.99 615.42 161.39 615.31 C161.80 615.21 162.24 615.12 162.75 615.04 C163.26 614.96 163.79 614.90 164.46 614.85 C165.14 614.80 165.45 614.76 166.80 614.74 C168.14 614.71 170.63 614.70 172.55 614.70 C174.47 614.70 176.96 614.71 178.30 614.74 C179.65 614.76 179.96 614.80 180.64 614.85 C181.31 614.90 181.84 614.96 182.35 615.04 C182.86 615.12 183.30 615.21 183.71 615.31 C184.11 615.42 184.46 615.54 184.79 615.67 C185.11 615.81 185.39 615.95 185.64 616.12 C185.89 616.29 186.10 616.48 186.28 616.69 C186.47 616.90 186.62 617.13 186.74 617.41 C186.86 617.69 186.95 617.82 187.01 618.39 C187.07 618.95 187.10 620.00 187.10 620.80Z" fill="#6a6a6a" stroke="#3a3a3a" stroke-width="0.6"/><path d="M186.10 620.80 C186.10 621.47 186.08 622.34 186.03 622.82 C185.98 623.29 185.90 623.40 185.80 623.64 C185.70 623.87 185.57 624.06 185.42 624.24 C185.27 624.42 185.09 624.57 184.88 624.71 C184.68 624.85 184.44 624.98 184.17 625.09 C183.91 625.20 183.61 625.30 183.28 625.39 C182.94 625.47 182.58 625.55 182.15 625.61 C181.73 625.68 181.29 625.73 180.73 625.77 C180.17 625.82 179.91 625.85 178.79 625.87 C177.66 625.89 175.60 625.90 174.00 625.90 C172.40 625.90 170.34 625.89 169.21 625.87 C168.09 625.85 167.83 625.82 167.27 625.77 C166.71 625.73 166.27 625.68 165.85 625.61 C165.42 625.55 165.06 625.47 164.72 625.39 C164.39 625.30 164.09 625.20 163.83 625.09 C163.56 624.98 163.32 624.85 163.12 624.71 C162.91 624.57 162.73 624.42 162.58 624.24 C162.43 624.06 162.30 623.87 162.20 623.64 C162.10 623.40 162.02 623.29 161.97 622.82 C161.92 622.34 161.90 621.47 161.90 620.80 C161.90 620.13 161.92 619.26 161.97 618.78 C162.02 618.31 162.10 618.20 162.20 617.96 C162.30 617.73 162.43 617.54 162.58 617.36 C162.73 617.18 162.91 617.03 163.12 616.89 C163.32 616.75 163.56 616.62 163.83 616.51 C164.09 616.40 164.39 616.30 164.72 616.21 C165.06 616.13 165.42 616.05 165.85 615.99 C166.27 615.92 166.71 615.87 167.27 615.83 C167.83 615.78 168.09 615.75 169.21 615.73 C170.34 615.71 172.40 615.70 174.00 615.70 C175.60 615.70 177.66 615.71 178.79 615.73 C179.91 615.75 180.17 615.78 180.73 615.83 C181.29 615.87 181.73 615.92 182.15 615.99 C182.58 616.05 182.94 616.13 183.28 616.21 C183.61 616.30 183.91 616.40 184.17 616.51 C184.44 616.62 184.68 616.75 184.88 616.89 C185.09 617.03 185.27 617.18 185.42 617.36 C185.57 617.54 185.70 617.73 185.80 617.96 C185.90 618.20 185.98 618.31 186.03 618.78 C186.08 619.26 186.10 620.13 186.10 620.80Z" fill="#000"/><path d="M169.5 620.0 h1.2" stroke="#fff" stroke-width="0.6" stroke-opacity="0.7"/><path d="M168.1 619.9 h1.2" stroke="#fff" stroke-width="0.6" stroke-opacity="0.7"/><path d="M181.1 621.4 h1.7" stroke="#fff" stroke-width="0.6" stroke-opacity="0.7"/><path d="M169.3 620.9 h1.0" stroke="#fff" stroke-width="0.6" stroke-opacity="0.7"/><path d="M168.4 620.0 h0.9" stroke="#fff" stroke-width="0.6" stroke-opacity="0.7"/><path d="M181.3 621.5 h1.7" stroke="#fff" stroke-width="0.6" stroke-opacity="0.7"/><path d="M179.1 620.2 h1.0" stroke="#fff" stroke-width="0.6" stroke-opacity="0.7"/><path d="M176.2 621.3 h1.8" stroke="#fff" stroke-width="0.6" stroke-opacity="0.7"/><path d="M180.5 620.0 h1.4" stroke="#fff" stroke-width="0.6" stroke-opacity="0.7"/><path d="M176.9 620.8 h0.8" stroke="#fff" stroke-width="0.6" stroke-opacity="0.7"/><ellipse cx="192.50" cy="620.80" rx="4.80" ry="5.40" fill="#ccc" stroke="#3a3a3a" stroke-width="0.6"/><ellipse cx="192.50" cy="620.80" rx="3.20" ry="3.80" fill="#999" stroke="#3a3a3a" stroke-width="0.6"/><ellipse cx="192.50" cy="620.80" rx="1.60" ry="2.20" fill="#555" stroke="#3a3a3a" stroke-width="0.6"/><path d="M222.50 618.80 C222.50 619.89 222.47 620.98 222.42 621.65 C222.37 622.31 222.28 622.47 222.18 622.80 C222.07 623.14 221.93 623.40 221.77 623.65 C221.60 623.90 221.41 624.12 221.18 624.32 C220.96 624.52 220.71 624.70 220.42 624.85 C220.13 625.01 219.81 625.15 219.44 625.28 C219.08 625.40 218.69 625.51 218.23 625.60 C217.77 625.69 217.29 625.76 216.68 625.82 C216.07 625.88 215.79 625.93 214.58 625.96 C213.37 625.99 211.13 626.00 209.40 626.00 C207.67 626.00 205.43 625.99 204.22 625.96 C203.01 625.93 202.73 625.88 202.12 625.82 C201.51 625.76 201.03 625.69 200.57 625.60 C200.11 625.51 199.72 625.40 199.36 625.28 C198.99 625.15 198.67 625.01 198.38 624.85 C198.09 624.70 197.84 624.52 197.62 624.32 C197.39 624.12 197.20 623.90 197.03 623.65 C196.87 623.40 196.73 623.14 196.62 622.80 C196.52 622.47 196.43 622.31 196.38 621.65 C196.33 620.98 196.30 619.89 196.30 618.80 C196.30 617.71 196.33 615.95 196.38 615.08 C196.43 614.21 196.52 614.01 196.62 613.57 C196.73 613.14 196.87 612.80 197.03 612.47 C197.20 612.14 197.39 611.86 197.62 611.59 C197.84 611.33 198.09 611.10 198.38 610.90 C198.67 610.69 198.99 610.51 199.36 610.35 C199.72 610.18 200.11 610.05 200.57 609.93 C201.03 609.81 201.51 609.71 202.12 609.63 C202.73 609.55 203.01 609.50 204.22 609.46 C205.43 609.42 207.67 609.40 209.40 609.40 C211.13 609.40 213.37 609.42 214.58 609.46 C215.79 609.50 216.07 609.55 216.68 609.63 C217.29 609.71 217.77 609.81 218.23 609.93 C218.69 610.05 219.08 610.18 219.44 610.35 C219.81 610.51 220.13 610.69 220.42 610.90 C220.71 611.10 220.96 611.33 221.18 611.59 C221.41 611.86 221.60 612.14 221.77 612.47 C221.93 612.80 222.07 613.14 222.18 613.57 C222.28 614.01 222.37 614.21 222.42 615.08 C222.47 615.95 222.50 617.71 222.50 618.80Z" fill="#d8d8d8" stroke="#3a3a3a" stroke-width="0.6"/><path d="M220.00 618.80 C220.00 619.76 219.98 620.80 219.93 621.41 C219.88 622.02 219.81 622.16 219.72 622.47 C219.63 622.77 219.51 623.02 219.37 623.25 C219.23 623.48 219.06 623.68 218.87 623.86 C218.68 624.04 218.46 624.20 218.21 624.35 C217.96 624.50 217.69 624.62 217.38 624.74 C217.06 624.85 216.73 624.95 216.33 625.03 C215.93 625.11 215.53 625.18 215.00 625.24 C214.48 625.29 214.24 625.33 213.20 625.36 C212.16 625.39 210.23 625.40 208.75 625.40 C207.27 625.40 205.34 625.39 204.30 625.36 C203.26 625.33 203.02 625.29 202.50 625.24 C201.97 625.18 201.57 625.11 201.17 625.03 C200.77 624.95 200.44 624.85 200.12 624.74 C199.81 624.62 199.54 624.50 199.29 624.35 C199.04 624.20 198.82 624.04 198.63 623.86 C198.44 623.68 198.27 623.48 198.13 623.25 C197.99 623.02 197.87 622.77 197.78 622.47 C197.69 622.16 197.62 622.02 197.57 621.41 C197.52 620.80 197.50 619.76 197.50 618.80 C197.50 617.84 197.52 616.38 197.57 615.64 C197.62 614.89 197.69 614.72 197.78 614.35 C197.87 613.98 197.99 613.69 198.13 613.41 C198.27 613.13 198.44 612.89 198.63 612.67 C198.82 612.44 199.04 612.25 199.29 612.07 C199.54 611.90 199.81 611.74 200.12 611.60 C200.44 611.47 200.77 611.35 201.17 611.25 C201.57 611.15 201.97 611.06 202.50 611.00 C203.02 610.93 203.26 610.88 204.30 610.85 C205.34 610.82 207.27 610.80 208.75 610.80 C210.23 610.80 212.16 610.82 213.20 610.85 C214.24 610.88 214.48 610.93 215.00 611.00 C215.53 611.06 215.93 611.15 216.33 611.25 C216.73 611.35 217.06 611.47 217.38 611.60 C217.69 611.74 217.96 611.90 218.21 612.07 C218.46 612.25 218.68 612.44 218.87 612.67 C219.06 612.89 219.23 613.13 219.37 613.41 C219.51 613.69 219.63 613.98 219.72 614.35 C219.81 614.72 219.88 614.89 219.93 615.64 C219.98 616.38 220.00 617.84 220.00 618.80Z" fill="#777" stroke="#3a3a3a" stroke-width="0.6"/><path d="M216.10 618.80 C216.10 619.58 216.08 620.59 216.05 621.13 C216.01 621.68 215.96 621.81 215.89 622.08 C215.82 622.35 215.73 622.57 215.62 622.78 C215.51 622.98 215.38 623.16 215.24 623.32 C215.09 623.49 214.92 623.63 214.73 623.76 C214.54 623.89 214.33 624.01 214.09 624.11 C213.85 624.21 213.60 624.29 213.29 624.37 C212.99 624.44 212.68 624.50 212.28 624.55 C211.88 624.60 211.70 624.64 210.90 624.66 C210.10 624.69 208.63 624.70 207.50 624.70 C206.37 624.70 204.90 624.69 204.10 624.66 C203.30 624.64 203.12 624.60 202.72 624.55 C202.32 624.50 202.01 624.44 201.71 624.37 C201.40 624.29 201.15 624.21 200.91 624.11 C200.67 624.01 200.46 623.89 200.27 623.76 C200.08 623.63 199.91 623.49 199.76 623.32 C199.62 623.16 199.49 622.98 199.38 622.78 C199.27 622.57 199.18 622.35 199.11 622.08 C199.04 621.81 198.99 621.68 198.95 621.13 C198.92 620.59 198.90 619.58 198.90 618.80 C198.90 618.02 198.92 617.01 198.95 616.47 C198.99 615.92 199.04 615.79 199.11 615.52 C199.18 615.25 199.27 615.03 199.38 614.82 C199.49 614.62 199.62 614.44 199.76 614.28 C199.91 614.11 200.08 613.97 200.27 613.84 C200.46 613.71 200.67 613.59 200.91 613.49 C201.15 613.39 201.40 613.31 201.71 613.23 C202.01 613.16 202.32 613.10 202.72 613.05 C203.12 613.00 203.30 612.96 204.10 612.94 C204.90 612.91 206.37 612.90 207.50 612.90 C208.63 612.90 210.10 612.91 210.90 612.94 C211.70 612.96 211.88 613.00 212.28 613.05 C212.68 613.10 212.99 613.16 213.29 613.23 C213.60 613.31 213.85 613.39 214.09 613.49 C214.33 613.59 214.54 613.71 214.73 613.84 C214.92 613.97 215.09 614.11 215.24 614.28 C215.38 614.44 215.51 614.62 215.62 614.82 C215.73 615.03 215.82 615.25 215.89 615.52 C215.96 615.79 216.01 615.92 216.05 616.47 C216.08 617.01 216.10 618.02 216.10 618.80Z" fill="#000"/><path d="M208.7 619.2 h1.7" stroke="#fff" stroke-width="0.6" stroke-opacity="0.75"/><path d="M211.9 619.2 h1.9" stroke="#fff" stroke-width="0.6" stroke-opacity="0.75"/><path d="M202.8 618.7 h1.9" stroke="#fff" stroke-width="0.6" stroke-opacity="0.75"/><path d="M209.0 619.4 h0.8" stroke="#fff" stroke-width="0.6" stroke-opacity="0.75"/><path d="M207.2 618.4 h1.4" stroke="#fff" stroke-width="0.6" stroke-opacity="0.75"/><path d="M208.2 618.0 h0.9" stroke="#fff" stroke-width="0.6" stroke-opacity="0.75"/></g>
<g clip-path="url(#c20)"><path d="M233.20 528.50 C233.70 526.42 235.20 528.55 236.20 529.00 C237.20 529.45 238.20 530.70 239.20 531.20 C240.20 531.70 241.20 532.03 242.20 532.00 C243.20 531.97 244.03 531.47 245.20 531.00 C246.37 530.53 247.37 529.60 249.20 529.20 C251.03 528.80 252.53 528.78 256.20 528.60 C259.87 528.42 266.20 528.27 271.20 528.10 C276.20 527.93 281.70 527.78 286.20 527.60 C290.70 527.42 294.87 527.27 298.20 527.00 C301.53 526.73 303.98 526.33 306.20 526.00 C308.42 525.67 309.95 525.20 311.50 525.00 C313.05 524.80 314.83 521.87 315.50 524.80 C316.17 527.73 316.17 539.63 315.50 542.60 C314.83 545.57 313.05 542.67 311.50 542.60 C309.95 542.53 308.42 542.32 306.20 542.20 C303.98 542.08 301.53 542.00 298.20 541.90 C294.87 541.80 290.70 541.68 286.20 541.60 C281.70 541.52 276.20 541.50 271.20 541.40 C266.20 541.30 259.87 541.13 256.20 541.00 C252.53 540.87 251.03 540.93 249.20 540.60 C247.37 540.27 246.37 539.43 245.20 539.00 C244.03 538.57 243.20 538.03 242.20 538.00 C241.20 537.97 240.20 538.30 239.20 538.80 C238.20 539.30 237.20 540.55 236.20 541.00 C235.20 541.45 233.70 543.58 233.20 541.50 C232.70 539.42 232.70 530.58 233.20 528.50Z" fill="#fff" stroke="#3c3c3c" stroke-width="0.6"/><path d="M244.70 535.00 C244.70 534.02 245.15 532.95 245.90 532.06 C246.65 531.17 247.48 530.15 249.20 529.66 C250.92 529.17 252.53 529.28 256.20 529.11 C259.87 528.94 266.20 528.81 271.20 528.65 C276.20 528.50 281.70 528.36 286.20 528.19 C290.70 528.02 294.87 527.89 298.20 527.64 C301.53 527.39 303.98 527.03 306.20 526.72 C308.42 526.41 309.95 525.98 311.50 525.80 C313.05 525.62 314.83 522.92 315.50 525.62 C316.17 528.31 316.17 539.26 315.50 541.99 C314.83 544.72 313.05 542.05 311.50 541.99 C309.95 541.93 308.42 541.73 306.20 541.62 C303.98 541.52 301.53 541.44 298.20 541.35 C294.87 541.26 290.70 541.15 286.20 541.07 C281.70 541.00 276.20 540.98 271.20 540.89 C266.20 540.80 259.87 540.64 256.20 540.52 C252.53 540.40 250.92 540.58 249.20 540.15 C247.48 539.72 246.65 538.80 245.90 537.94 C245.15 537.09 244.70 535.98 244.70 535.00Z" fill="none" stroke="#3a3a3a" stroke-width="0.6"/><path d="M246.70 535.00 C246.70 534.10 246.32 533.21 247.90 532.31 C249.48 531.42 252.32 530.14 256.20 529.62 C260.08 529.11 266.20 529.34 271.20 529.20 C276.20 529.06 281.70 528.94 286.20 528.78 C290.70 528.63 294.87 528.50 298.20 528.28 C301.53 528.06 303.98 527.72 306.20 527.44 C308.42 527.16 309.95 526.77 311.50 526.60 C313.05 526.43 314.83 523.97 315.50 526.43 C316.17 528.90 316.17 538.89 315.50 541.38 C314.83 543.88 313.05 541.44 311.50 541.38 C309.95 541.33 308.42 541.15 306.20 541.05 C303.98 540.95 301.53 540.88 298.20 540.80 C294.87 540.71 290.70 540.61 286.20 540.54 C281.70 540.47 276.20 540.46 271.20 540.38 C266.20 540.29 260.08 540.49 256.20 540.04 C252.32 539.59 249.48 538.53 247.90 537.69 C246.32 536.85 246.70 535.90 246.70 535.00Z" fill="none" stroke="#3a3a3a" stroke-width="0.6"/><path d="M249.20 535.00 C249.20 534.17 249.23 533.34 250.40 532.50 C251.57 531.67 252.73 530.49 256.20 530.01 C259.67 529.53 266.20 529.75 271.20 529.62 C276.20 529.49 281.70 529.37 286.20 529.23 C290.70 529.08 294.87 528.97 298.20 528.76 C301.53 528.55 303.98 528.24 306.20 527.98 C308.42 527.72 309.95 527.36 311.50 527.20 C313.05 527.04 314.83 524.76 315.50 527.04 C316.17 529.33 316.17 538.61 315.50 540.93 C314.83 543.24 313.05 540.98 311.50 540.93 C309.95 540.88 308.42 540.71 306.20 540.62 C303.98 540.52 301.53 540.46 298.20 540.38 C294.87 540.30 290.70 540.21 286.20 540.15 C281.70 540.08 276.20 540.07 271.20 539.99 C266.20 539.91 259.67 540.10 256.20 539.68 C252.73 539.26 251.57 538.28 250.40 537.50 C249.23 536.72 249.20 535.83 249.20 535.00Z" fill="#6a6a6a" stroke="#3a3a3a" stroke-width="0.6"/><path d="M252.70 535.00 C252.70 534.25 253.32 533.51 253.90 532.76 C254.48 532.01 253.32 530.95 256.20 530.52 C259.08 530.09 266.20 530.29 271.20 530.17 C276.20 530.05 281.70 529.95 286.20 529.82 C290.70 529.69 294.87 529.59 298.20 529.40 C301.53 529.21 303.98 528.93 306.20 528.70 C308.42 528.47 309.95 528.14 311.50 528.00 C313.05 527.86 314.83 525.81 315.50 527.86 C316.17 529.91 316.17 538.24 315.50 540.32 C314.83 542.40 313.05 540.37 311.50 540.32 C309.95 540.27 308.42 540.12 306.20 540.04 C303.98 539.96 301.53 539.90 298.20 539.83 C294.87 539.76 290.70 539.68 286.20 539.62 C281.70 539.56 276.20 539.55 271.20 539.48 C266.20 539.41 259.08 539.57 256.20 539.20 C253.32 538.83 254.48 537.94 253.90 537.24 C253.32 536.54 252.70 535.75 252.70 535.00Z" fill="#050505"/><ellipse cx="237.40" cy="535.00" rx="3.00" ry="4.10" fill="#000"/><ellipse cx="310.00" cy="535.00" rx="3.00" ry="4.00" fill="#000"/><path d="M286.5 535.5 h1.7" stroke="#fff" stroke-width="0.6" stroke-opacity="0.85"/><path d="M302.6 535.5 h1.9" stroke="#fff" stroke-width="0.6" stroke-opacity="0.85"/><path d="M256.7 534.9 h1.9" stroke="#fff" stroke-width="0.6" stroke-opacity="0.85"/><path d="M287.8 535.8 h0.8" stroke="#fff" stroke-width="0.6" stroke-opacity="0.85"/><path d="M278.8 534.5 h1.4" stroke="#fff" stroke-width="0.6" stroke-opacity="0.85"/><path d="M284.1 534.0 h0.9" stroke="#fff" stroke-width="0.6" stroke-opacity="0.85"/><path d="M269.3 535.8 h1.7" stroke="#fff" stroke-width="0.6" stroke-opacity="0.85"/><path d="M263.2 535.6 h0.8" stroke="#fff" stroke-width="0.6" stroke-opacity="0.85"/><path d="M286.3 534.3 h0.6" stroke="#fff" stroke-width="0.6" stroke-opacity="0.85"/><path d="M299.0 534.4 h0.9" stroke="#fff" stroke-width="0.6" stroke-opacity="0.85"/><path d="M304.6 535.7 h1.0" stroke="#fff" stroke-width="0.6" stroke-opacity="0.85"/><path d="M303.6 535.1 h1.5" stroke="#fff" stroke-width="0.6" stroke-opacity="0.85"/><path d="M265.5 535.9 h1.6" stroke="#fff" stroke-width="0.6" stroke-opacity="0.85"/><path d="M303.8 535.8 h1.0" stroke="#fff" stroke-width="0.6" stroke-opacity="0.85"/><path d="M273.4 534.3 h0.8" stroke="#fff" stroke-width="0.6" stroke-opacity="0.85"/><path d="M258.5 534.6 h1.4" stroke="#fff" stroke-width="0.6" stroke-opacity="0.85"/><path d="M255.4 535.4 h1.1" stroke="#fff" stroke-width="0.6" stroke-opacity="0.85"/><path d="M270.8 535.6 h1.3" stroke="#fff" stroke-width="0.6" stroke-opacity="0.85"/><path d="M271.1 535.0 h1.6" stroke="#fff" stroke-width="0.6" stroke-opacity="0.85"/><path d="M258.1 536.0 h0.6" stroke="#fff" stroke-width="0.6" stroke-opacity="0.85"/><path d="M292.9 535.7 h0.6" stroke="#fff" stroke-width="0.6" stroke-opacity="0.85"/><path d="M294.8 534.7 h1.4" stroke="#fff" stroke-width="0.6" stroke-opacity="0.85"/><path d="M255.7 534.1 h0.9" stroke="#fff" stroke-width="0.6" stroke-opacity="0.85"/><path d="M303.2 534.4 h1.7" stroke="#fff" stroke-width="0.6" stroke-opacity="0.85"/><path d="M302.0 535.9 h1.1" stroke="#fff" stroke-width="0.6" stroke-opacity="0.85"/><path d="M273.0 535.0 h1.7" stroke="#fff" stroke-width="0.6" stroke-opacity="0.85"/><path d="M260.6 535.5 h1.7" stroke="#fff" stroke-width="0.6" stroke-opacity="0.85"/><path d="M298.4 534.1 h1.9" stroke="#fff" stroke-width="0.6" stroke-opacity="0.85"/><path d="M259.8 534.7 h1.5" stroke="#fff" stroke-width="0.6" stroke-opacity="0.85"/><path d="M301.4 534.7 h1.9" stroke="#fff" stroke-width="0.6" stroke-opacity="0.85"/><path d="M279.1 535.9 h1.5" stroke="#888" stroke-width="0.6" stroke-opacity="0.9"/><path d="M262.4 532.1 h1.1" stroke="#888" stroke-width="0.6" stroke-opacity="0.9"/><path d="M269.0 536.9 h1.6" stroke="#888" stroke-width="0.6" stroke-opacity="0.9"/><path d="M285.5 535.3 h1.5" stroke="#888" stroke-width="0.6" stroke-opacity="0.9"/><path d="M262.5 534.6 h0.8" stroke="#888" stroke-width="0.6" stroke-opacity="0.9"/><path d="M300.8 532.4 h1.7" stroke="#888" stroke-width="0.6" stroke-opacity="0.9"/><path d="M259.0 536.1 h1.1" stroke="#888" stroke-width="0.6" stroke-opacity="0.9"/><path d="M275.6 537.1 h0.6" stroke="#888" stroke-width="0.6" stroke-opacity="0.9"/><path d="M258.3 537.5 h1.3" stroke="#888" stroke-width="0.6" stroke-opacity="0.9"/><path d="M259.8 537.9 h1.9" stroke="#888" stroke-width="0.6" stroke-opacity="0.9"/></g>
<g clip-path="url(#c21)"><path d="M234.90 615.80 C235.40 613.72 236.90 615.85 237.90 616.30 C238.90 616.75 239.90 618.00 240.90 618.50 C241.90 619.00 242.90 619.33 243.90 619.30 C244.90 619.27 245.73 618.77 246.90 618.30 C248.07 617.83 249.07 616.90 250.90 616.50 C252.73 616.10 254.23 616.08 257.90 615.90 C261.57 615.72 267.90 615.57 272.90 615.40 C277.90 615.23 283.40 615.08 287.90 614.90 C292.40 614.72 296.57 614.57 299.90 614.30 C303.23 614.03 305.97 613.63 307.90 613.30 C309.83 612.97 310.23 612.50 311.50 612.30 C312.77 612.10 314.83 609.17 315.50 612.10 C316.17 615.03 316.17 626.93 315.50 629.90 C314.83 632.87 312.77 629.97 311.50 629.90 C310.23 629.83 309.83 629.62 307.90 629.50 C305.97 629.38 303.23 629.30 299.90 629.20 C296.57 629.10 292.40 628.98 287.90 628.90 C283.40 628.82 277.90 628.80 272.90 628.70 C267.90 628.60 261.57 628.43 257.90 628.30 C254.23 628.17 252.73 628.23 250.90 627.90 C249.07 627.57 248.07 626.73 246.90 626.30 C245.73 625.87 244.90 625.33 243.90 625.30 C242.90 625.27 241.90 625.60 240.90 626.10 C239.90 626.60 238.90 627.85 237.90 628.30 C236.90 628.75 235.40 630.88 234.90 628.80 C234.40 626.72 234.40 617.88 234.90 615.80Z" fill="#fff" stroke="#3c3c3c" stroke-width="0.6"/><path d="M246.40 622.30 C246.40 621.32 246.85 620.25 247.60 619.36 C248.35 618.47 249.18 617.45 250.90 616.96 C252.62 616.47 254.23 616.58 257.90 616.41 C261.57 616.24 267.90 616.11 272.90 615.95 C277.90 615.80 283.40 615.66 287.90 615.49 C292.40 615.32 296.57 615.19 299.90 614.94 C303.23 614.69 305.97 614.33 307.90 614.02 C309.83 613.71 310.23 613.28 311.50 613.10 C312.77 612.92 314.83 610.22 315.50 612.92 C316.17 615.61 316.17 626.56 315.50 629.29 C314.83 632.02 312.77 629.35 311.50 629.29 C310.23 629.23 309.83 629.03 307.90 628.92 C305.97 628.82 303.23 628.74 299.90 628.65 C296.57 628.56 292.40 628.45 287.90 628.37 C283.40 628.30 277.90 628.28 272.90 628.19 C267.90 628.10 261.57 627.94 257.90 627.82 C254.23 627.70 252.62 627.88 250.90 627.45 C249.18 627.02 248.35 626.10 247.60 625.24 C246.85 624.39 246.40 623.28 246.40 622.30Z" fill="none" stroke="#3a3a3a" stroke-width="0.6"/><path d="M248.40 622.30 C248.40 621.40 248.02 620.51 249.60 619.61 C251.18 618.72 254.02 617.44 257.90 616.92 C261.78 616.41 267.90 616.64 272.90 616.50 C277.90 616.36 283.40 616.24 287.90 616.08 C292.40 615.93 296.57 615.80 299.90 615.58 C303.23 615.36 305.97 615.02 307.90 614.74 C309.83 614.46 310.23 614.07 311.50 613.90 C312.77 613.73 314.83 611.27 315.50 613.73 C316.17 616.20 316.17 626.19 315.50 628.68 C314.83 631.18 312.77 628.74 311.50 628.68 C310.23 628.63 309.83 628.45 307.90 628.35 C305.97 628.25 303.23 628.18 299.90 628.10 C296.57 628.01 292.40 627.91 287.90 627.84 C283.40 627.77 277.90 627.76 272.90 627.68 C267.90 627.59 261.78 627.79 257.90 627.34 C254.02 626.89 251.18 625.83 249.60 624.99 C248.02 624.15 248.40 623.20 248.40 622.30Z" fill="none" stroke="#3a3a3a" stroke-width="0.6"/><path d="M250.90 622.30 C250.90 621.47 250.93 620.64 252.10 619.80 C253.27 618.97 254.43 617.79 257.90 617.31 C261.37 616.83 267.90 617.05 272.90 616.92 C277.90 616.79 283.40 616.67 287.90 616.53 C292.40 616.38 296.57 616.27 299.90 616.06 C303.23 615.85 305.97 615.54 307.90 615.28 C309.83 615.02 310.23 614.66 311.50 614.50 C312.77 614.34 314.83 612.06 315.50 614.34 C316.17 616.63 316.17 625.91 315.50 628.23 C314.83 630.54 312.77 628.28 311.50 628.23 C310.23 628.18 309.83 628.01 307.90 627.92 C305.97 627.82 303.23 627.76 299.90 627.68 C296.57 627.60 292.40 627.51 287.90 627.45 C283.40 627.38 277.90 627.37 272.90 627.29 C267.90 627.21 261.37 627.40 257.90 626.98 C254.43 626.56 253.27 625.58 252.10 624.80 C250.93 624.02 250.90 623.13 250.90 622.30Z" fill="#6a6a6a" stroke="#3a3a3a" stroke-width="0.6"/><path d="M254.40 622.30 C254.40 621.55 255.02 620.81 255.60 620.06 C256.18 619.31 255.02 618.25 257.90 617.82 C260.78 617.39 267.90 617.59 272.90 617.47 C277.90 617.35 283.40 617.25 287.90 617.12 C292.40 616.99 296.57 616.89 299.90 616.70 C303.23 616.51 305.97 616.23 307.90 616.00 C309.83 615.77 310.23 615.44 311.50 615.30 C312.77 615.16 314.83 613.11 315.50 615.16 C316.17 617.21 316.17 625.54 315.50 627.62 C314.83 629.70 312.77 627.67 311.50 627.62 C310.23 627.57 309.83 627.42 307.90 627.34 C305.97 627.26 303.23 627.20 299.90 627.13 C296.57 627.06 292.40 626.98 287.90 626.92 C283.40 626.86 277.90 626.85 272.90 626.78 C267.90 626.71 260.78 626.87 257.90 626.50 C255.02 626.13 256.18 625.24 255.60 624.54 C255.02 623.84 254.40 623.05 254.40 622.30Z" fill="#050505"/><ellipse cx="239.10" cy="622.30" rx="3.00" ry="4.10" fill="#000"/><ellipse cx="310.00" cy="622.30" rx="3.00" ry="4.00" fill="#000"/><path d="M295.5 622.9 h1.3" stroke="#fff" stroke-width="0.6" stroke-opacity="0.85"/><path d="M269.6 621.3 h1.5" stroke="#fff" stroke-width="0.6" stroke-opacity="0.85"/><path d="M279.8 622.8 h1.1" stroke="#fff" stroke-width="0.6" stroke-opacity="0.85"/><path d="M294.3 621.8 h1.7" stroke="#fff" stroke-width="0.6" stroke-opacity="0.85"/><path d="M292.4 622.1 h1.4" stroke="#fff" stroke-width="0.6" stroke-opacity="0.85"/><path d="M290.0 621.7 h1.4" stroke="#fff" stroke-width="0.6" stroke-opacity="0.85"/><path d="M296.0 621.8 h1.7" stroke="#fff" stroke-width="0.6" stroke-opacity="0.85"/><path d="M290.2 623.0 h1.1" stroke="#fff" stroke-width="0.6" stroke-opacity="0.85"/><path d="M261.4 622.9 h1.7" stroke="#fff" stroke-width="0.6" stroke-opacity="0.85"/><path d="M278.5 621.5 h0.9" stroke="#fff" stroke-width="0.6" stroke-opacity="0.85"/><path d="M287.8 621.9 h1.9" stroke="#fff" stroke-width="0.6" stroke-opacity="0.85"/><path d="M285.5 621.7 h1.5" stroke="#fff" stroke-width="0.6" stroke-opacity="0.85"/><path d="M274.4 623.2 h1.9" stroke="#fff" stroke-width="0.6" stroke-opacity="0.85"/><path d="M281.9 622.6 h1.6" stroke="#fff" stroke-width="0.6" stroke-opacity="0.85"/><path d="M296.0 623.3 h0.6" stroke="#fff" stroke-width="0.6" stroke-opacity="0.85"/><path d="M274.5 622.5 h1.0" stroke="#fff" stroke-width="0.6" stroke-opacity="0.85"/><path d="M285.5 621.5 h1.8" stroke="#fff" stroke-width="0.6" stroke-opacity="0.85"/><path d="M282.4 621.5 h1.5" stroke="#fff" stroke-width="0.6" stroke-opacity="0.85"/><path d="M272.1 621.7 h1.3" stroke="#fff" stroke-width="0.6" stroke-opacity="0.85"/><path d="M263.6 621.7 h1.8" stroke="#fff" stroke-width="0.6" stroke-opacity="0.85"/><path d="M290.8 621.3 h1.7" stroke="#fff" stroke-width="0.6" stroke-opacity="0.85"/><path d="M257.7 622.0 h1.9" stroke="#fff" stroke-width="0.6" stroke-opacity="0.85"/><path d="M287.0 621.9 h1.1" stroke="#fff" stroke-width="0.6" stroke-opacity="0.85"/><path d="M275.8 621.6 h2.0" stroke="#fff" stroke-width="0.6" stroke-opacity="0.85"/><path d="M259.5 622.1 h1.6" stroke="#fff" stroke-width="0.6" stroke-opacity="0.85"/><path d="M276.2 623.3 h0.9" stroke="#fff" stroke-width="0.6" stroke-opacity="0.85"/><path d="M304.5 623.1 h1.5" stroke="#fff" stroke-width="0.6" stroke-opacity="0.85"/><path d="M300.1 622.2 h1.8" stroke="#fff" stroke-width="0.6" stroke-opacity="0.85"/><path d="M295.6 622.3 h1.3" stroke="#fff" stroke-width="0.6" stroke-opacity="0.85"/><path d="M291.2 622.1 h0.7" stroke="#fff" stroke-width="0.6" stroke-opacity="0.85"/><path d="M269.5 623.4 h1.6" stroke="#888" stroke-width="0.6" stroke-opacity="0.9"/><path d="M298.2 620.4 h0.9" stroke="#888" stroke-width="0.6" stroke-opacity="0.9"/><path d="M264.1 620.7 h1.6" stroke="#888" stroke-width="0.6" stroke-opacity="0.9"/><path d="M263.2 622.5 h0.9" stroke="#888" stroke-width="0.6" stroke-opacity="0.9"/><path d="M271.2 621.9 h1.8" stroke="#888" stroke-width="0.6" stroke-opacity="0.9"/><path d="M286.5 619.4 h1.0" stroke="#888" stroke-width="0.6" stroke-opacity="0.9"/><path d="M264.0 624.5 h1.7" stroke="#888" stroke-width="0.6" stroke-opacity="0.9"/><path d="M296.1 624.3 h1.6" stroke="#888" stroke-width="0.6" stroke-opacity="0.9"/><path d="M303.0 624.1 h1.0" stroke="#888" stroke-width="0.6" stroke-opacity="0.9"/><path d="M298.2 622.2 h1.7" stroke="#888" stroke-width="0.6" stroke-opacity="0.9"/></g>
<rect x="99" y="522.3" width="20.599999999999994" height="23.200000000000045" fill="none" stroke="#555" stroke-width="0.9"/>
<rect x="198.5" y="520.3" width="22.400000000000006" height="25.90000000000009" fill="none" stroke="#555" stroke-width="0.9"/>
<rect x="305.8" y="521.9" width="6.699999999999989" height="22.5" fill="none" stroke="#555" stroke-width="0.9"/>
<rect x="99.6" y="605.6" width="22.10000000000001" height="26.100000000000023" fill="none" stroke="#555" stroke-width="0.9"/>
<rect x="200" y="606.5" width="22.69999999999999" height="25.0" fill="none" stroke="#555" stroke-width="0.9"/>
<rect x="307.7" y="608.5" width="4.800000000000011" height="24.200000000000045" fill="none" stroke="#555" stroke-width="0.9"/>
<rect x="56.9" y="473.5" width="75.79999999999998" height="81.10000000000002" fill="none" stroke="#666" stroke-width="1.05"/>
<rect x="57.3" y="557.7" width="76.89999999999999" height="82.5" fill="none" stroke="#666" stroke-width="1.05"/>
<rect x="146.2" y="472.8" width="74.70000000000002" height="82.59999999999997" fill="none" stroke="#666" stroke-width="1.05"/>
<rect x="146.5" y="559.6" width="76.19999999999999" height="80.79999999999995" fill="none" stroke="#666" stroke-width="1.05"/>
<rect x="236.2" y="474.5" width="76.30000000000001" height="80.89999999999998" fill="none" stroke="#666" stroke-width="1.05"/>
<rect x="237.9" y="561.8" width="74.6" height="80.90000000000009" fill="none" stroke="#666" stroke-width="1.05"/>
<rect x="327.2" y="460.2" width="2.4" height="9.8" fill="#000"/>
<line x1="344.8" y1="478.3" x2="344.8" y2="605" stroke="#ababab" stroke-width="1.2"/>
<line x1="342.6" y1="479.3" x2="344.8" y2="479.3" stroke="#ababab" stroke-width="0.9"/>
<text x="338" y="481.3406" font-size="5.7" stroke="#222" stroke-width="0.2" text-anchor="end" fill="#222" textLength="7.2" lengthAdjust="spacingAndGlyphs">30</text>
<line x1="342.6" y1="521.2" x2="344.8" y2="521.2" stroke="#ababab" stroke-width="0.9"/>
<text x="338" y="523.2406000000001" font-size="5.7" stroke="#222" stroke-width="0.2" text-anchor="end" fill="#222" textLength="7.2" lengthAdjust="spacingAndGlyphs">20</text>
<line x1="342.6" y1="563.1" x2="344.8" y2="563.1" stroke="#ababab" stroke-width="0.9"/>
<text x="338" y="565.1406000000001" font-size="5.7" stroke="#222" stroke-width="0.2" text-anchor="end" fill="#222" textLength="7.2" lengthAdjust="spacingAndGlyphs">10</text>
<line x1="342.6" y1="605.0" x2="344.8" y2="605.0" stroke="#ababab" stroke-width="0.9"/>
<text x="338" y="607.0406" font-size="5.7" stroke="#222" stroke-width="0.2" text-anchor="end" fill="#222" textLength="3.6" lengthAdjust="spacingAndGlyphs">0</text>
<line x1="344.5" y1="605" x2="486.5" y2="605" stroke="#ababab" stroke-width="1.2"/>
<line x1="380.8" y1="605" x2="380.8" y2="607" stroke="#ababab" stroke-width="0.9"/>
<line x1="416.2" y1="605" x2="416.2" y2="607" stroke="#ababab" stroke-width="0.9"/>
<line x1="451.2" y1="605" x2="451.2" y2="607" stroke="#ababab" stroke-width="0.9"/>
<line x1="486.5" y1="605" x2="486.5" y2="607" stroke="#ababab" stroke-width="0.9"/>
<rect x="353.05" y="591.6500000000001" width="8.1" height="13.799999999999955" fill="#fff" stroke="#555" stroke-width="0.9"/>
<line x1="357.1" y1="586.5" x2="357.1" y2="591.2" stroke="#444" stroke-width="0.9"/>
<line x1="355.8" y1="586.5" x2="358.40000000000003" y2="586.5" stroke="#444" stroke-width="0.9"/>
<rect x="364.2" y="527" width="9.199999999999989" height="78" fill="#000"/>
<line x1="368.79999999999995" y1="504.2" x2="368.79999999999995" y2="527" stroke="#444" stroke-width="0.9"/>
<line x1="367.49999999999994" y1="504.2" x2="370.09999999999997" y2="504.2" stroke="#444" stroke-width="0.9"/>
<rect x="387.65" y="599.6500000000001" width="8.799999999999988" height="5.7999999999999545" fill="#fff" stroke="#555" stroke-width="0.9"/>
<line x1="392.04999999999995" y1="594.2" x2="392.04999999999995" y2="599.2" stroke="#444" stroke-width="0.9"/>
<line x1="390.74999999999994" y1="594.2" x2="393.34999999999997" y2="594.2" stroke="#444" stroke-width="0.9"/>
<rect x="399.2" y="549" width="9.300000000000011" height="56" fill="#000"/>
<line x1="403.85" y1="540.4" x2="403.85" y2="549" stroke="#444" stroke-width="0.9"/>
<line x1="402.55" y1="540.4" x2="405.15000000000003" y2="540.4" stroke="#444" stroke-width="0.9"/>
<rect x="422.84999999999997" y="600.85" width="9.000000000000034" height="4.600000000000023" fill="#fff" stroke="#555" stroke-width="0.9"/>
<line x1="427.35" y1="596.9" x2="427.35" y2="600.4" stroke="#444" stroke-width="0.9"/>
<line x1="426.05" y1="596.9" x2="428.65000000000003" y2="596.9" stroke="#444" stroke-width="0.9"/>
<rect x="434.6" y="538.8" width="9.199999999999989" height="66.20000000000005" fill="#000"/>
<line x1="439.20000000000005" y1="495.4" x2="439.20000000000005" y2="538.8" stroke="#444" stroke-width="0.9"/>
<line x1="437.90000000000003" y1="495.4" x2="440.50000000000006" y2="495.4" stroke="#444" stroke-width="0.9"/>
<rect x="458.15" y="593.45" width="9.000000000000034" height="12" fill="#fff" stroke="#555" stroke-width="0.9"/>
<line x1="462.65" y1="588.2" x2="462.65" y2="593" stroke="#444" stroke-width="0.9"/>
<line x1="461.34999999999997" y1="588.2" x2="463.95" y2="588.2" stroke="#444" stroke-width="0.9"/>
<rect x="470.4" y="535.3" width="9.200000000000045" height="69.70000000000005" fill="#000"/>
<line x1="475.0" y1="511.5" x2="475.0" y2="535.3" stroke="#444" stroke-width="0.9"/>
<line x1="473.7" y1="511.5" x2="476.3" y2="511.5" stroke="#444" stroke-width="0.9"/>
<text x="361.55" y="484.75" font-size="20.00" fill="#111" stroke="#111" stroke-width="0.3">*</text>
<text x="397.75" y="484.75" font-size="20.00" fill="#111" stroke="#111" stroke-width="0.3">*</text>
<text x="433.15" y="484.75" font-size="20.00" fill="#111" stroke="#111" stroke-width="0.3">*</text>
<text x="470.55" y="484.75" font-size="20.00" fill="#111" stroke="#111" stroke-width="0.3">*</text>
<text x="350.8" y="621.4" font-size="10" stroke="#111" stroke-width="0.2" textLength="22.6" lengthAdjust="spacingAndGlyphs">MNC</text>
<text x="390" y="621.4" font-size="10" stroke="#111" stroke-width="0.2">Lin<tspan dy="-3.5" font-size="6">-</tspan></text>
<text x="423" y="621.4" font-size="10" stroke="#111" stroke-width="0.2" textLength="18.5" lengthAdjust="spacingAndGlyphs">LSK</text>
<text x="448.9" y="621.4" font-size="10" stroke="#111" stroke-width="0.2">CD34<tspan dy="-3.5" font-size="6">-</tspan><tspan dy="3.5">LSK</tspan></text>
<rect x="486.0" y="541.1" width="2.6000000000000227" height="2.3999999999999773" fill="#fff" stroke="#222" stroke-width="1"/>
<rect x="486.2" y="552.5" width="3.1999999999999886" height="3.2999999999999545" fill="#000"/>
<text x="490.4" y="545.4" font-size="7.5" stroke="#111" stroke-width="0.14" textLength="20" lengthAdjust="spacingAndGlyphs">EGFP</text>
<text x="490.8" y="558.1" font-size="7.5" stroke="#111" stroke-width="0.14" textLength="26.9" lengthAdjust="spacingAndGlyphs">Fbxw7α</text>
<text x="330.6" y="536.5" font-size="10" stroke="#111" stroke-width="0.2" text-anchor="middle" textLength="107.8" lengthAdjust="spacingAndGlyphs" transform="rotate(-90 330.6 536.5)">Donor-derived cells (%)</text>
</svg>
</body></html>
